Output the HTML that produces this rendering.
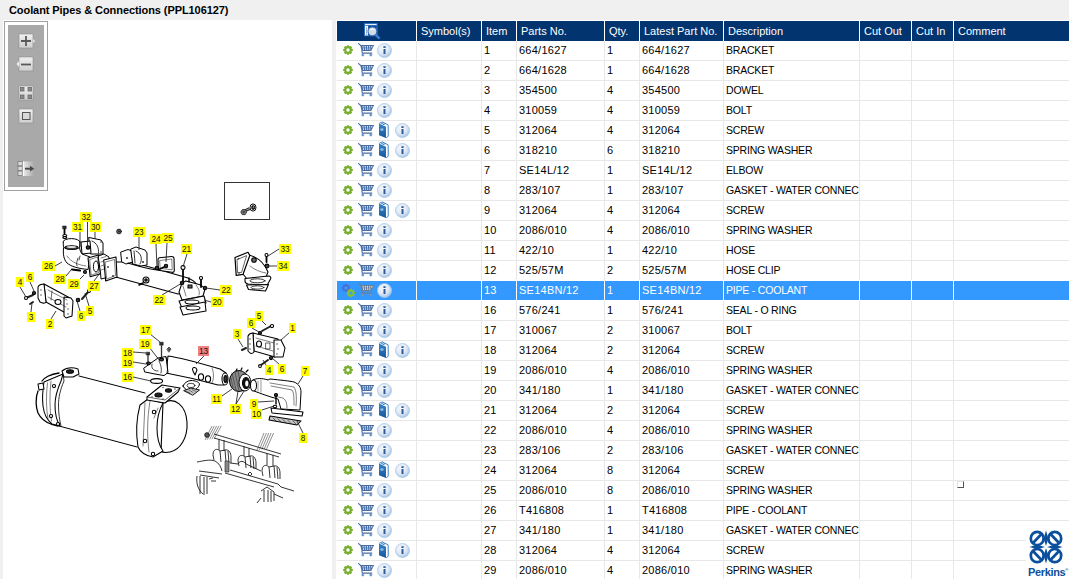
<!DOCTYPE html><html><head><meta charset="utf-8"><title>Coolant Pipes &amp; Connections</title><style>
*{margin:0;padding:0;box-sizing:border-box}
html,body{width:1069px;height:579px;overflow:hidden;background:#f0f0f0;font-family:"Liberation Sans",Arial,sans-serif;}
.a{position:absolute}
#title{left:9px;top:3px;font-weight:bold;font-size:11px;line-height:15px;color:#000;white-space:nowrap;letter-spacing:-0.08px}
#lp{left:3px;top:20px;width:329px;height:559px;background:#fff}
#rp{left:336px;top:20px;width:733px;height:559px;background:#fff}
#tbo{left:4px;top:21px;width:44px;height:170px;border:1px solid #a0a0a0;background:#fff}
#tbi{left:8px;top:25px;width:36px;height:162px;background:#a9a9a9}
.hd{top:21px;height:20px;background:#02346f;color:#fff;font-size:11px;line-height:20px;white-space:nowrap;overflow:hidden;padding-left:4px}
.c{height:19px;font-size:11px;line-height:19px;color:#000;white-space:nowrap;overflow:hidden;padding-left:2px;letter-spacing:0.25px}
.d{font-size:10.5px;letter-spacing:-0.2px}
.hl{left:337px;width:732px;height:1px;background:#e8e8e8}
.vl{width:1px;background:#e8e8e8;top:41px;height:538px}
.sel{background:#3399ff;color:#fff}
</style></head><body>
<div class="a" id="title">Coolant Pipes &amp; Connections (PPL106127)</div>
<div class="a" id="lp"></div>
<div class="a" id="rp"></div>
<div class="a" id="tbo"></div><div class="a" id="tbi"></div>
<svg class="a" style="left:18px;top:33px" width="18" height="16" viewBox="0 0 18 16"><defs><linearGradient id="bg33" x1="0" y1="0" x2="0" y2="1"><stop offset="0" stop-color="#f0f0f0"/><stop offset="1" stop-color="#cfcfcf"/></linearGradient></defs><rect x="1" y="1" width="14" height="14" fill="url(#bg33)" stroke="#8c8c8c" stroke-width="0.6"/><path d="M3 8 H13 M8 3 V13" stroke="#5a5a5a" stroke-width="1.8"/><path d="M15.2 6 L17 8 L15.2 10" fill="#f0f0f0"/></svg><svg class="a" style="left:18px;top:56px" width="18" height="16" viewBox="0 0 18 16"><defs><linearGradient id="bg56" x1="0" y1="0" x2="0" y2="1"><stop offset="0" stop-color="#f0f0f0"/><stop offset="1" stop-color="#cfcfcf"/></linearGradient></defs><rect x="1" y="1" width="14" height="14" fill="url(#bg56)" stroke="#8c8c8c" stroke-width="0.6"/><path d="M3 8.5 H13" stroke="#5a5a5a" stroke-width="1.8"/></svg><svg class="a" style="left:16px;top:61px" width="3" height="6" viewBox="0 0 3 6"><path d="M3 0 L0.5 3 L3 6 Z" fill="#eee"/></svg><svg class="a" style="left:18px;top:85px" width="18" height="16" viewBox="0 0 18 16"><defs><linearGradient id="bg85" x1="0" y1="0" x2="0" y2="1"><stop offset="0" stop-color="#f0f0f0"/><stop offset="1" stop-color="#cfcfcf"/></linearGradient></defs><rect x="1" y="1" width="14" height="14" fill="url(#bg85)" stroke="#8c8c8c" stroke-width="0.6"/><g fill="#8a8a8a" stroke="#6a6a6a" stroke-width="0.8"><rect x="2.4" y="2.4" width="3.6" height="3.6"/><rect x="10" y="2.4" width="3.6" height="3.6"/><rect x="2.4" y="10" width="3.6" height="3.6"/><rect x="10" y="10" width="3.6" height="3.6"/></g></svg><svg class="a" style="left:18px;top:108px" width="18" height="16" viewBox="0 0 18 16"><defs><linearGradient id="bg108" x1="0" y1="0" x2="0" y2="1"><stop offset="0" stop-color="#f0f0f0"/><stop offset="1" stop-color="#cfcfcf"/></linearGradient></defs><rect x="1" y="1" width="14" height="14" fill="url(#bg108)" stroke="#8c8c8c" stroke-width="0.6"/><rect x="4.5" y="4.5" width="7.5" height="7" fill="#d8d8d8" stroke="#555" stroke-width="1"/></svg><svg class="a" style="left:17px;top:160px" width="20" height="18" viewBox="0 0 20 18"><defs><linearGradient id="exg" x1="0" y1="0" x2="1" y2="0"><stop offset="0" stop-color="#ececec"/><stop offset="1" stop-color="#ececec" stop-opacity="0"/></linearGradient></defs><g fill="#dcdcdc" stroke="#7c7c7c" stroke-width="0.8"><rect x="1" y="1.5" width="4.3" height="4.3"/><rect x="1" y="6.3" width="4.3" height="4.3"/><rect x="1" y="11.1" width="4.3" height="4.3"/></g><rect x="6" y="1.5" width="11" height="14.5" fill="url(#exg)"/><path d="M6.3 1.5 V16" stroke="#fff" stroke-width="1"/><path d="M8 8.7 H14" stroke="#474747" stroke-width="1.9"/><path d="M13 5.8 L17.2 8.7 L13 11.6 Z" fill="#474747"/></svg>
<svg class="a" style="left:0;top:0" width="332" height="579" viewBox="0 0 332 579">
<rect x="224.5" y="182.5" width="45" height="37" fill="none" stroke="#333" stroke-width="1"/>
<g stroke="#111" stroke-width="0.8" fill="#fff"><path d="M245.5,210.5 L249.5,208.6" stroke-width="3" stroke="#222"/><path d="M246,210.2 L249.2,208.7" stroke-width="1.2" stroke="#999"/><path d="M240.8,212 L242.4,209.6 L245.4,209.6 L246.6,212 L245.2,214.6 L242.2,214.6 Z" fill="#888"/><circle cx="243.7" cy="212.1" r="1.3" fill="#444" stroke="none"/><ellipse cx="253" cy="207.5" rx="3" ry="3.6" fill="#eee" stroke-width="1"/><ellipse cx="253.2" cy="207.5" rx="1.6" ry="2" fill="#222"/><circle cx="253.4" cy="207" r="0.6" fill="#fff" stroke="none"/></g>
<g stroke="#111" stroke-width="0.85" fill="none" stroke-linejoin="round">
<path d="M205.0,440.0 L212.0,426" stroke="#444" stroke-width="0.6"/>
<path d="M257.0,450.0 L264.0,433" stroke="#444" stroke-width="0.6"/>
<path d="M207.3,439.7 L214.3,426" stroke="#444" stroke-width="0.6"/>
<path d="M259.4,449.7 L266.4,433" stroke="#444" stroke-width="0.6"/>
<path d="M209.6,439.4 L216.6,426" stroke="#444" stroke-width="0.6"/>
<path d="M261.8,449.4 L268.8,433" stroke="#444" stroke-width="0.6"/>
<path d="M211.9,439.1 L218.9,426" stroke="#444" stroke-width="0.6"/>
<path d="M264.2,449.1 L271.2,433" stroke="#444" stroke-width="0.6"/>
<path d="M214.2,438.8 L221.2,426" stroke="#444" stroke-width="0.6"/>
<path d="M266.6,448.8 L273.6,433" stroke="#444" stroke-width="0.6"/>
<circle cx="207" cy="435" r="2.3" fill="#555"/>
<path d="M214,434 L281,454 M214,438 L279,457" />
<path d="M219,439 L219,450 M224,440 L224,451 M244,446 L244,456 M249,448 L249,457 M267,453 L267,465 M273,455 L273,466" />
<path d="M213,455 C213,449 217,448 220,451 L225,450 C229,449 231,453 231,457 L231,463 M213,455 L214,460 M220,451 L221,462 M225,450 L226,462 M228,451 L229,463" />
<path d="M238,461 C238,455 242,454 245,457 L250,456 C254,455 256,459 256,463 L256,469 M238,461 L239,466 M245,457 L246,468 M250,456 L251,468 M253,457 L254,469" />
<path d="M262,471 C262,465 266,464 269,467 L274,466 C278,465 280,469 280,473 L280,479 M262,471 L263,476 M269,467 L270,478 M274,466 L275,478 M277,467 L278,479" />
<path d="M197,462 C203,461 210,459 215,461 C219,463 221,467 222,471" />
<path d="M230,470 L278,484 M225,473 L274,487 M278,484 L281,487 L294,491" />
<path d="M230,463 L238,464 C240,460 244,461 246,464 L261,471" />
<rect x="225" y="461" width="4" height="11" fill="#888" stroke="#222" stroke-width="0.6"/>
<path d="M248,474 l2,-2 l2,2 l-2,2 z" fill="#fff"/>
<path d="M199,471 L222,474 M200,475 L219,478 M197,476 C196,483 198,490 203,494 M200,476 L200,494 M204,477 L204,495 M207,477 L207,494 M209,479 L213,478 M211,481 L216,481" />
<path d="M261,491 L267,487 L274,492 L274,501 M264,490 L264,502 M268,490 L268,502 M271,491 L271,502 M274,494 L283,498 M257,503 L261,498" />
</g>
<g fill="#fff" stroke="#000" stroke-width="1.05" stroke-linejoin="round" stroke-linecap="round">
<path d="M79,376 L145,393 L137,447 L59,426 Z" stroke="none"/>
<path d="M79,376 L145,393 M59,426 L137,447" fill="none" stroke-width="1"/>
<path d="M59,373 C50,374 44,378 42,381 L38,383 L37,389 L38,391 C35,398 36,408 38,413 C41,419 45,422 51,424 L60,426 L61,373 Z" stroke="none"/>
<path d="M59,373 C50,374 44,378 42,381 M38,391 C35,398 36,408 38,413 C41,419 45,422 51,424 L58,426" fill="none" stroke-width="1.3"/>
<path d="M44,382 L63,374 L61,381 C57,390 55,398 55,405 C55,413 56,420 60,426 L52,424 C47,420 44,414 43,406 C42,397 43,388 44,382 Z" />
<path d="M63,374 L64,381 C60,390 58.5,398 58.5,405 C58.5,413 59.5,420 61,426" fill="none" stroke-width="0.8"/>
<path d="M47.5,383 C46,395 46,408 48,419 M51,381 C49.5,395 49.5,409 51.5,421" fill="none" stroke-width="0.5"/>
<path d="M62,371 C66,368 72,367 78,369 L79,374 L73,377 L64,377 Z" />
<ellipse cx="70" cy="371.5" rx="3.5" ry="1.8" fill="#222"/>
<circle cx="54" cy="386" r="1.6"/><circle cx="51" cy="416" r="1.6"/><circle cx="58" cy="424" r="1.6"/>
<path d="M38,384 L43,383 L44,389 L39,390 Z" fill="#fff"/>
<path d="M163,403 C175,396 186,406 187,422 C188,438 180,450 170,452 C165,453 162,452 161,451 Z" stroke-width="1.1"/>
<path d="M140,405 L148,399 L163,403 C158,412 157,420 157,428 C157,437 158,444 163,451 L153,457 C146,456 140,452 138,447 C136,435 136,420 140,405 Z" />
<path d="M145,403 L143,446 M150,401 C147,420 147,436 149,452 M158,408 L154,418" fill="none" stroke-width="0.5"/>
<circle cx="154" cy="412" r="1.7"/><circle cx="145" cy="441" r="1.7"/><circle cx="153" cy="454" r="1.7"/>
<path d="M147,397 L162,385 L180,388 L178,392 L165,403 L147,400 Z" />
<path d="M147,397 L165,400 L180,388" fill="none" stroke-width="0.6"/>
<ellipse cx="158.5" cy="395" rx="3.6" ry="2" fill="#222"/><ellipse cx="168.5" cy="390.5" rx="3" ry="1.7" fill="#222"/>
<g fill="#333" stroke="none"><circle cx="152" cy="397" r="0.7"/><circle cx="163" cy="387.5" r="0.7"/><circle cx="175" cy="389" r="0.7"/><circle cx="163" cy="399" r="0.7"/></g>
<path d="M168,356 C176,357 196,362 220,369 L226,373 L224,385 L218,385 C200,380 182,376 166,373 Z" />
<ellipse cx="225" cy="379" rx="3" ry="6"/><ellipse cx="225.5" cy="379" rx="1.6" ry="3.6" fill="#333"/>
<path d="M212,368 C214,372 214,380 212,383" fill="none" stroke-width="0.5"/>
<path d="M144,368 L151,363 L158,358 L166,356.5 L168,372.5 L164,375.6 L155,374 L145,372 Z" stroke-width="1"/>
<path d="M152,364 C151,368 153,371 158,371 M159,361 C161,365 162,369 161,373" fill="none" stroke-width="0.7"/>
<path d="M166,357 C167.5,362 168,368 167,373" fill="none" stroke-width="0.6"/>
<path d="M161.5,346 L161.5,357 M148,355.5 L148,362" stroke="#333" stroke-width="1.3"/>
<rect x="159.8" y="342.2" width="3.4" height="3" fill="#333" stroke-width="0.5"/><rect x="146.4" y="352.2" width="3.2" height="2.8" fill="#333" stroke-width="0.5"/><ellipse cx="161.5" cy="359.5" rx="2" ry="1.4" fill="#444"/><ellipse cx="148.5" cy="363.3" rx="2" ry="1.3" fill="#444"/>
<ellipse cx="156.6" cy="381" rx="6" ry="2.4" fill="none" stroke-width="1.1"/>
<path d="M167,349 l2,-2 l2,2 l-2,3 z" fill="#555" stroke-width="0.5"/>
<path d="M193,371 C191,367 196,366 197,370 L195,375 Z" />
<ellipse cx="201" cy="377" rx="2.6" ry="3.2"/><ellipse cx="208" cy="379" rx="2.6" ry="3.2"/>
<path d="M183,386 C184,383 188,380.5 191,380.5 C195,380.5 199,382 199.5,384 C199,387 196,390 192,391 C188,391 184,389 183,386 Z" stroke-width="1"/>
<ellipse cx="191" cy="385.5" rx="4" ry="2.2" fill="none" stroke-width="0.7"/>
<path d="M184,390.5 L191,388 L199.5,390 L193,395 Z" fill="#ccc" stroke-width="0.9"/>
<path d="M186,391 L190,393 M189,390 L193,392.5 M192,389.5 L196,391.5" fill="none" stroke-width="0.5"/>
<ellipse cx="239" cy="381" rx="9.5" ry="10.5" fill="#8a8a8a" stroke-width="1"/>
<path d="M232,373 L236,390 M235,372 L239,391 M238,371 L242,391 M231,378 L233,388" fill="none" stroke="#333" stroke-width="0.6"/>
<ellipse cx="245" cy="382.5" rx="6" ry="8.5" stroke-width="1"/><ellipse cx="246" cy="383" rx="3.5" ry="5.5" fill="#111"/><ellipse cx="246.8" cy="383.5" rx="1.6" ry="3" fill="#fff" stroke="none"/>
<path d="M236,371 l1,-2 M241,370 l1,-2 M246,372 l2,-2" stroke-width="1.2"/>
<path d="M253,380 C256,378 262,378 268,380 L270,379 C280,380 290,381 294,382 C299,384 301,388 301,392 L300,410 L281,409 L278,399 C270,397 262,394 254,391 Z" stroke-width="1"/>
<ellipse cx="253.5" cy="385.5" rx="3" ry="5.5"/>
<path d="M270,383 L294,387 C296,390 297,396 296,406 M271,386 L292,390 C294,393 294,398 294,405 M278,397 L283,398 C286,400 287,403 287,408" fill="none" stroke-width="0.5"/>
<path d="M258,381 L258,391 M261,380 L261,392" fill="none" stroke-width="0.4"/>
<path d="M271,408 L303,412 L302,416 L272,413 Z" />
<path d="M270,416 L301,421 L297,425 L269,420 Z" fill="#c4c4c4"/>
<path d="M273,418 L276,421 M278,418.8 L281,422 M283,419.6 L286,422.8 M288,420.4 L291,423.6 M293,421 L296,424" fill="none" stroke-width="0.5"/>
<path d="M276,396 l0,8" stroke-width="1.4"/>
<circle cx="276" cy="395" r="1.6" fill="#333"/><ellipse cx="275" cy="406.5" rx="1.8" ry="1.2"/>
<path d="M253,333 L278,339 L275,357 L254,351 Z" />
<path d="M256,338 L274,343 M256,346 L273,351" fill="none" stroke-width="0.5"/>
<ellipse cx="259" cy="344" rx="2.5" ry="3"/><rect x="266" y="343" width="4" height="6" fill="none" stroke-width="0.6"/>
<path d="M248,336 C249,334 251,333 253,333 L254,351 C254,353 252,354 250,353 L248,351 Z" />
<path d="M274,340 L281,340 L285,348 L283,357 L274,357 Z" />
<g fill="#333" stroke="none"><circle cx="250" cy="339" r="0.7"/><circle cx="250" cy="344" r="0.7"/><circle cx="250" cy="349" r="0.7"/><circle cx="277" cy="344" r="0.7"/><circle cx="278" cy="349" r="0.7"/><circle cx="277" cy="354" r="0.7"/></g>
<path d="M262,331 L271,326 M261,365 L268,360 M242,350 L246,348" stroke-width="2" stroke="#222"/>
<circle cx="272" cy="326" r="1.6"/><circle cx="260" cy="333" r="1.5" fill="#333"/><circle cx="271" cy="358" r="1.6" fill="#333"/><circle cx="260" cy="366" r="1.4"/>
<path d="M44,284 L70,298 L71,316 L46,302 Z" />
<path d="M38,287 C39,285 42,284 44,284 L46,302 C45,304 42,303 40,302 L38,298 Z" />
<path d="M64,297 L71,298 L73,301 L72,316 L66,318 L64,316 Z" />
<path d="M48,290 L67,300 M48,297 L66,307" fill="none" stroke-width="0.5"/>
<ellipse cx="58" cy="302" rx="3" ry="2.5"/><path d="M52,291 L51,300" stroke-width="0.6"/>
<g fill="#333" stroke="none"><circle cx="41" cy="290" r="0.7"/><circle cx="41" cy="295" r="0.7"/><circle cx="67" cy="304" r="0.7"/><circle cx="68" cy="309" r="0.7"/><circle cx="68" cy="314" r="0.7"/></g>
<path d="M26,298 L33,295 M89,291 L82,299 M30,304 l3,-2" stroke-width="2" stroke="#222"/>
<circle cx="34" cy="293" r="1.6" fill="#333"/><circle cx="26" cy="298" r="1.5"/><circle cx="78" cy="300" r="1.8" fill="#333"/><circle cx="89" cy="291" r="1.4"/>
<path d="M89,237.5 L101,240 L103,243 L103,254 L91,254 Z" stroke-width="1"/>
<path d="M92,241 C97,243 99,248 98.5,253" fill="none" stroke-width="0.8"/>
<circle cx="101" cy="242" r="0.8" fill="#333" stroke="none"/><circle cx="101" cy="252" r="0.8" fill="#333" stroke="none"/>
<path d="M81,242 L90,241 L91,253 L82,254 Z" />
<path d="M63.5,248 C63,254 63.5,259 67,263 C71,266.5 78,268.5 88,269.5 L90,257 L82,254 C80,251 79.5,249 79.5,246 Z" stroke-width="1"/>
<path d="M67,256 C71,262 78,265 86,266" fill="none" stroke-width="0.5"/>
<path d="M78,258 C77,261 76,264 77,266 M80,256 l-1,4" fill="none" stroke-width="0.7"/>
<ellipse cx="71.5" cy="242" rx="8.4" ry="3.4" stroke-width="1"/>
<path d="M63.2,242.5 L63.5,247 C66,249.5 76,250.5 79.6,247.5 L79.8,242.5" stroke-width="0.9"/>
<ellipse cx="71.5" cy="247.5" rx="6.5" ry="1.8" fill="#555"/><ellipse cx="71.5" cy="247" rx="4.5" ry="1" fill="#ddd" stroke="none"/>
<path d="M64.5,229 L64.5,234" stroke-width="1.8"/>
<rect x="62.8" y="226" width="3.4" height="2.8" fill="#333" stroke-width="0.5"/><ellipse cx="64.8" cy="235.5" rx="2" ry="1.1" fill="none"/><ellipse cx="64.8" cy="237.5" rx="2" ry="1" fill="none"/>
<circle cx="88" cy="247.5" r="1.8" fill="#333"/>
<circle cx="119" cy="231.5" r="2.4" fill="#666" stroke-width="0.7"/><circle cx="119" cy="231.5" r="0.9" fill="#222" stroke="none"/>
<path d="M72,269.5 L80,270.5" stroke-width="2.2"/>
<circle cx="85" cy="272" r="1.5" fill="#444"/>
<path d="M88,258 L98.5,255 L100.6,273.7 L90.2,276.8 Z" stroke-width="1.1"/>
<path d="M90,259.5 L97.5,257 L99,272.5 L91.5,275 Z" fill="none" stroke-width="0.5"/>
<ellipse cx="96" cy="266.5" rx="2.6" ry="5.5" fill="none" stroke-width="1"/>
<path d="M98.5,256 L104,254 L109,257 L109,277 L101,279 L100.6,273.7 Z" stroke-width="1"/>
<path d="M101,258 L106,256.5 M101,262 L107,260 M101,266 L107,264 M101,270 L107,268" fill="none" stroke-width="0.5"/>
<path d="M112,262 L128,262 C140,264 150,267 160,270 L188,278 C195,281 198,285 199,289 L178,294 L112,276 Z" />
<path d="M103.7,260 L116,257 L117,277 L105.7,281 Z" stroke-width="1.1"/>
<path d="M105.5,262 L114.5,259.5 L115.5,275.5 L107,279 Z" fill="none" stroke-width="0.5"/>
<circle cx="108" cy="267" r="0.9" fill="#333" stroke="none"/><circle cx="113" cy="276" r="0.9" fill="#333" stroke="none"/>
<path d="M121,252 L128,249.5 L132,251 L133,262 L126,264 L122,262 Z" stroke-width="1"/>
<path d="M131,249 L136,247 L145,250 L147,253 L147,265 L141,266 L133,264 Z" stroke-width="1"/>
<path d="M136,251 C141,253 143,259 140,264 M134,251 L135,263" fill="none" stroke-width="0.8"/>
<circle cx="127" cy="258" r="1" fill="#333" stroke="none"/><circle cx="143" cy="262" r="1" fill="#333" stroke="none"/>
<path d="M128,263 C138,266 150,270 160,270" fill="none"/>
<path d="M158,259.5 C158,258.5 158.5,258 159.5,257.8 L171.5,256.5 C173,256.4 174,257.2 174,258.6 L174.3,270.5 C174.3,271.8 173.4,272.5 172,272.3 L160,270.5 C158.8,270.3 158.2,269.6 158.2,268.5 Z" stroke-width="1.1"/>
<path d="M160,260.5 L171.8,259 L172.2,269.8 L160.6,268.4 Z" fill="none" stroke-width="0.5"/>
<circle cx="166" cy="266" r="1.7" fill="#333"/><circle cx="157" cy="268" r="1.8" fill="#333"/>
<path d="M158,270 L164,267" stroke-width="1.6"/>
<circle cx="146" cy="280" r="3"/><circle cx="146" cy="280" r="1.3" fill="#333"/><path d="M139,285 l4,-2" stroke-width="1.6"/>
<path d="M182,283 L186,281 L201,285 L205,289 L203,296 L182,300 L179,292 Z" />
<path d="M183,286 L186,296 M196,285 C199,289 200,292 199,295" fill="none" stroke-width="0.5"/>
<path d="M179,301 L204,296 L206,303 L182,308 Z" />
<ellipse cx="192" cy="302" rx="7" ry="2" fill="none"/>
<path d="M180,307 L205,302 L206,311 L183,315 Z" />
<ellipse cx="193" cy="308" rx="7" ry="2" fill="none"/>
<path d="M183,268 L183,281 M201,280 L201,287" stroke-width="1.8"/>
<circle cx="183" cy="267.5" r="2"/><circle cx="201" cy="278" r="1.6"/><circle cx="205" cy="288" r="1.7" fill="#333"/><circle cx="182" cy="283" r="1.7" fill="#333"/>
<path d="M189,282 l0,-4" stroke-width="1.4"/>
<rect x="188" y="285" width="4" height="3" fill="#666"/>
<path d="M249,255 C257,257 264,262 268,272 L266,277 L247,279 L243,274 Z" />
<path d="M235,257.5 L248,252.3 L249.8,255.5 L243,274.4 L236.2,275.4 Z" stroke-width="1.2"/>
<path d="M237.3,259.5 L246.6,255.6 L241.6,272.4 L238,272.8 Z" fill="none" stroke-width="0.6"/>
<circle cx="238.5" cy="258.8" r="0.8" fill="#333" stroke="none"/><circle cx="239" cy="273" r="0.8" fill="#333" stroke="none"/>
<path d="M245,278.5 L268.5,276 C270.5,276 271.2,277.5 270.5,279 L267,285.5 L248,284 C246,283.6 245,282.6 245,281 Z" stroke-width="1.1"/>
<ellipse cx="257.5" cy="280.8" rx="7.5" ry="2" fill="none" stroke-width="0.8"/>
<path d="M246.5,285 L268.5,284.5 L265.5,291 L248.5,289.5 Z" stroke-width="1.1"/>
<ellipse cx="257.5" cy="287.5" rx="6.5" ry="1.6" fill="none" stroke-width="0.7"/>
<path d="M250,266 C255,270 260,272 266,273" fill="none" stroke-width="0.5"/>
<circle cx="254" cy="260" r="2.3" fill="#666"/><path d="M266.5,256 L266.5,262" stroke-width="1.8"/><circle cx="266.5" cy="255" r="1.5"/><circle cx="267" cy="266" r="1.9" fill="#444"/>
</g>
<g stroke="#1a1a1a" stroke-width="0.85">
<line x1="87.5" y1="222" x2="87.5" y2="247"/>
<line x1="80" y1="232" x2="80" y2="247"/>
<line x1="95" y1="232" x2="95" y2="239"/>
<line x1="55" y1="266" x2="62" y2="262"/>
<line x1="30" y1="282" x2="34" y2="291"/>
<line x1="20" y1="287" x2="26" y2="297"/>
<line x1="66" y1="276" x2="71" y2="270"/>
<line x1="78" y1="281" x2="84" y2="275"/>
<line x1="94" y1="281" x2="100" y2="273"/>
<line x1="31" y1="312" x2="32" y2="303"/>
<line x1="51" y1="319" x2="56" y2="311"/>
<line x1="80" y1="311" x2="77" y2="301"/>
<line x1="89" y1="306" x2="85" y2="293"/>
<line x1="139" y1="237" x2="139" y2="250"/>
<line x1="156" y1="244" x2="157" y2="268"/>
<line x1="167" y1="243" x2="166" y2="262"/>
<line x1="187" y1="254" x2="183" y2="267"/>
<line x1="220" y1="290" x2="206" y2="288"/>
<line x1="162" y1="295" x2="182" y2="283"/>
<line x1="211" y1="302" x2="204" y2="300"/>
<line x1="279" y1="249" x2="268" y2="256"/>
<line x1="277" y1="266" x2="268" y2="266"/>
<line x1="261" y1="320" x2="266" y2="325"/>
<line x1="252" y1="328" x2="259" y2="332"/>
<line x1="290" y1="332" x2="281" y2="340"/>
<line x1="238" y1="339" x2="243" y2="347"/>
<line x1="204" y1="356" x2="196" y2="364"/>
<line x1="266" y1="365" x2="263" y2="360"/>
<line x1="279" y1="364" x2="272" y2="358"/>
<line x1="303" y1="376" x2="298" y2="384"/>
<line x1="150" y1="334" x2="160" y2="342"/>
<line x1="149" y1="347" x2="160" y2="361"/>
<line x1="133" y1="352" x2="146" y2="353"/>
<line x1="133" y1="362" x2="146" y2="364"/>
<line x1="133" y1="377" x2="151" y2="381"/>
<line x1="222" y1="396" x2="232" y2="389"/>
<line x1="236" y1="404" x2="238" y2="391"/>
<line x1="236" y1="404" x2="244" y2="391"/>
<line x1="258" y1="402" x2="274" y2="401"/>
<line x1="262" y1="410" x2="274" y2="406"/>
<line x1="303" y1="433" x2="297" y2="421"/>
</g>
<g font-family="Liberation Sans, Arial, sans-serif" font-size="8.3" text-anchor="middle" fill="#111">
<rect x="80" y="212" width="12" height="10" fill="#ffff00"/><text x="86.0" y="220.2">32</text>
<rect x="72" y="222" width="11" height="10" fill="#ffff00"/><text x="77.5" y="230.2">31</text>
<rect x="90" y="222" width="11" height="10" fill="#ffff00"/><text x="95.5" y="230.2">30</text>
<rect x="42" y="261" width="13" height="10" fill="#ffff00"/><text x="48.5" y="269.2">26</text>
<rect x="26" y="272" width="8" height="10" fill="#ffff00"/><text x="30.0" y="280.2">6</text>
<rect x="16" y="277" width="8" height="10" fill="#ffff00"/><text x="20.0" y="285.2">4</text>
<rect x="54" y="274" width="12" height="10" fill="#ffff00"/><text x="60.0" y="282.2">28</text>
<rect x="68" y="279" width="12" height="10" fill="#ffff00"/><text x="74.0" y="287.2">29</text>
<rect x="88" y="281" width="12" height="10" fill="#ffff00"/><text x="94.0" y="289.2">27</text>
<rect x="27" y="312" width="8" height="10" fill="#ffff00"/><text x="31.0" y="320.2">3</text>
<rect x="46" y="319" width="8" height="10" fill="#ffff00"/><text x="50.0" y="327.2">2</text>
<rect x="77" y="311" width="8" height="10" fill="#ffff00"/><text x="81.0" y="319.2">6</text>
<rect x="86" y="306" width="8" height="10" fill="#ffff00"/><text x="90.0" y="314.2">5</text>
<rect x="133" y="227" width="12" height="10" fill="#ffff00"/><text x="139.0" y="235.2">23</text>
<rect x="150" y="234" width="12" height="10" fill="#ffff00"/><text x="156.0" y="242.2">24</text>
<rect x="162" y="233" width="12" height="10" fill="#ffff00"/><text x="168.0" y="241.2">25</text>
<rect x="181" y="244" width="11" height="10" fill="#ffff00"/><text x="186.5" y="252.2">21</text>
<rect x="220" y="285" width="12" height="10" fill="#ffff00"/><text x="226.0" y="293.2">22</text>
<rect x="153" y="295" width="12" height="10" fill="#ffff00"/><text x="159.0" y="303.2">22</text>
<rect x="211" y="297" width="12" height="10" fill="#ffff00"/><text x="217.0" y="305.2">20</text>
<rect x="279" y="244" width="12" height="10" fill="#ffff00"/><text x="285.0" y="252.2">33</text>
<rect x="277" y="261" width="12" height="10" fill="#ffff00"/><text x="283.0" y="269.2">34</text>
<rect x="255" y="311" width="8" height="10" fill="#ffff00"/><text x="259.0" y="319.2">5</text>
<rect x="247" y="318" width="8" height="10" fill="#ffff00"/><text x="251.0" y="326.2">6</text>
<rect x="289" y="323" width="7" height="10" fill="#ffff00"/><text x="292.5" y="331.2">1</text>
<rect x="233" y="329" width="8" height="10" fill="#ffff00"/><text x="237.0" y="337.2">3</text>
<rect x="198" y="346" width="11" height="10" fill="#f08080"/><text x="203.5" y="354.2">13</text>
<rect x="265" y="365" width="8" height="10" fill="#ffff00"/><text x="269.0" y="373.2">4</text>
<rect x="278" y="364" width="8" height="10" fill="#ffff00"/><text x="282.0" y="372.2">6</text>
<rect x="301" y="366" width="8" height="10" fill="#ffff00"/><text x="305.0" y="374.2">7</text>
<rect x="140" y="325" width="11" height="10" fill="#ffff00"/><text x="145.5" y="333.2">17</text>
<rect x="139" y="339" width="12" height="10" fill="#ffff00"/><text x="145.0" y="347.2">19</text>
<rect x="122" y="348" width="11" height="10" fill="#ffff00"/><text x="127.5" y="356.2">18</text>
<rect x="122" y="358" width="11" height="10" fill="#ffff00"/><text x="127.5" y="366.2">19</text>
<rect x="122" y="372" width="11" height="10" fill="#ffff00"/><text x="127.5" y="380.2">16</text>
<rect x="211" y="394" width="11" height="10" fill="#ffff00"/><text x="216.5" y="402.2">11</text>
<rect x="230" y="404" width="11" height="10" fill="#ffff00"/><text x="235.5" y="412.2">12</text>
<rect x="250" y="399" width="8" height="10" fill="#ffff00"/><text x="254.0" y="407.2">9</text>
<rect x="251" y="409" width="11" height="10" fill="#ffff00"/><text x="256.5" y="417.2">10</text>
<rect x="299" y="433" width="8" height="10" fill="#ffff00"/><text x="303.0" y="441.2">8</text>
</g>
</svg>
<div class="a hl" style="top:60px"></div>
<div class="a hl" style="top:80px"></div>
<div class="a hl" style="top:100px"></div>
<div class="a hl" style="top:120px"></div>
<div class="a hl" style="top:140px"></div>
<div class="a hl" style="top:160px"></div>
<div class="a hl" style="top:180px"></div>
<div class="a hl" style="top:200px"></div>
<div class="a hl" style="top:220px"></div>
<div class="a hl" style="top:240px"></div>
<div class="a hl" style="top:260px"></div>
<div class="a hl" style="top:280px"></div>
<div class="a hl" style="top:300px"></div>
<div class="a hl" style="top:320px"></div>
<div class="a hl" style="top:340px"></div>
<div class="a hl" style="top:360px"></div>
<div class="a hl" style="top:380px"></div>
<div class="a hl" style="top:400px"></div>
<div class="a hl" style="top:420px"></div>
<div class="a hl" style="top:440px"></div>
<div class="a hl" style="top:460px"></div>
<div class="a hl" style="top:480px"></div>
<div class="a hl" style="top:500px"></div>
<div class="a hl" style="top:520px"></div>
<div class="a hl" style="top:540px"></div>
<div class="a hl" style="top:560px"></div>
<div class="a hl" style="top:580px"></div>
<div class="a vl" style="left:416px"></div>
<div class="a vl" style="left:481px"></div>
<div class="a vl" style="left:516px"></div>
<div class="a vl" style="left:604px"></div>
<div class="a vl" style="left:639px"></div>
<div class="a vl" style="left:723px"></div>
<div class="a vl" style="left:859px"></div>
<div class="a vl" style="left:911px"></div>
<div class="a vl" style="left:953px"></div>
<div class="a hd" style="left:337px;width:79px"></div>
<div class="a hd" style="left:417px;width:64px">Symbol(s)</div>
<div class="a hd" style="left:482px;width:34px">Item</div>
<div class="a hd" style="left:517px;width:87px">Parts No.</div>
<div class="a hd" style="left:605px;width:34px">Qty.</div>
<div class="a hd" style="left:640px;width:83px">Latest Part No.</div>
<div class="a hd" style="left:724px;width:135px">Description</div>
<div class="a hd" style="left:860px;width:51px">Cut Out</div>
<div class="a hd" style="left:912px;width:41px">Cut In</div>
<div class="a hd" style="left:954px;width:115px">Comment</div>
<svg class="a" style="left:364px;top:23px" width="17" height="17" viewBox="0 0 17 17"><rect x="0" y="0" width="13.6" height="13.2" fill="#2f72c4"/><rect x="1" y="1" width="11.6" height="0.9" fill="#fff"/><rect x="1" y="2.8" width="3.2" height="9.6" fill="#fff"/><g fill="#2f5f9c"><rect x="2" y="4.6" width="1.2" height="0.9"/><rect x="2" y="6.6" width="1.2" height="0.9"/><rect x="2" y="8.6" width="1.2" height="0.9"/><rect x="2" y="10.6" width="1.2" height="0.9"/></g><rect x="4.2" y="2.8" width="8.4" height="9.6" fill="#164d92"/><circle cx="8.4" cy="8.4" r="4.4" fill="#d6dbe1" stroke="#2b6cc0" stroke-width="1"/><path d="M6 6.6 Q8.4 5.2 10.6 6.8" stroke="#fff" stroke-width="1" fill="none"/><path d="M11.4 11.6 L15.6 15.6" stroke="#3d80d2" stroke-width="2.2"/></svg>
<div class="a c" style="left:482px;top:41px;width:34px">1</div>
<div class="a c" style="left:517px;top:41px;width:87px">664/1627</div>
<div class="a c" style="left:605px;top:41px;width:34px">1</div>
<div class="a c" style="left:640px;top:41px;width:83px">664/1627</div>
<div class="a c d" style="left:724px;top:41px;width:135px">BRACKET</div>
<svg class="a" style="left:343px;top:45px" width="10" height="10" viewBox="0 0 11 11"><g fill="#77ae2e"><circle cx="5.5" cy="5.5" r="4"/><rect x="4.1" y="0.2" width="2.8" height="10.6" rx="0.9"/><rect x="0.2" y="4.1" width="10.6" height="2.8" rx="0.9"/><rect x="4.1" y="0.2" width="2.8" height="10.6" rx="0.9" transform="rotate(45 5.5 5.5)"/><rect x="4.1" y="0.2" width="2.8" height="10.6" rx="0.9" transform="rotate(-45 5.5 5.5)"/></g><circle cx="5.5" cy="5.5" r="1.9" fill="#fff"/></svg><svg class="a" style="left:358px;top:43px" width="17" height="14" viewBox="0 0 17 14"><path d="M0.6 0.6 L2.6 2.4" stroke="#4a6ea6" stroke-width="1.2" stroke-linecap="round"/><path d="M2.2 1.9 L16.2 1.9 L13.2 7.9 L3.6 7.9 Z" fill="#4a6ea6"/><g fill="#fff" opacity="0.85"><rect x="4.6" y="3" width="1" height="1.6"/><rect x="6.8" y="3" width="1" height="1.6"/><rect x="9" y="3" width="1" height="1.6"/><rect x="11.2" y="3" width="1" height="1.6"/><rect x="13.3" y="3" width="1" height="1.6"/><rect x="5" y="5.3" width="1" height="1.5"/><rect x="7.1" y="5.3" width="1" height="1.5"/><rect x="9.2" y="5.3" width="1" height="1.5"/><rect x="11.3" y="5.3" width="1" height="1.5"/></g><path d="M3.9 7.8 L4.3 10.1 L14.2 10.1" fill="none" stroke="#4a6ea6" stroke-width="1.1"/><circle cx="4.8" cy="12" r="1.1" fill="#4f9be8" stroke="#4a6ea6" stroke-width="0.4"/><circle cx="12.8" cy="12" r="1.1" fill="#4f9be8" stroke="#4a6ea6" stroke-width="0.4"/></svg><svg class="a" style="left:377px;top:43px" width="15" height="15" viewBox="0 0 15 15"><defs><radialGradient id="ig" cx="0.4" cy="0.35" r="0.7"><stop offset="0" stop-color="#f6f9fd"/><stop offset="0.55" stop-color="#dfe9f5"/><stop offset="1" stop-color="#9fc0e3"/></radialGradient></defs><circle cx="7.5" cy="7.5" r="7" fill="url(#ig)" stroke="#a9c8e8" stroke-width="0.8"/><rect x="6.4" y="3.2" width="2.2" height="1.8" fill="#2f5b9c"/><rect x="6.5" y="6" width="2" height="5" fill="#2f5b9c"/></svg>
<div class="a c" style="left:482px;top:61px;width:34px">2</div>
<div class="a c" style="left:517px;top:61px;width:87px">664/1628</div>
<div class="a c" style="left:605px;top:61px;width:34px">1</div>
<div class="a c" style="left:640px;top:61px;width:83px">664/1628</div>
<div class="a c d" style="left:724px;top:61px;width:135px">BRACKET</div>
<svg class="a" style="left:343px;top:65px" width="10" height="10" viewBox="0 0 11 11"><g fill="#77ae2e"><circle cx="5.5" cy="5.5" r="4"/><rect x="4.1" y="0.2" width="2.8" height="10.6" rx="0.9"/><rect x="0.2" y="4.1" width="10.6" height="2.8" rx="0.9"/><rect x="4.1" y="0.2" width="2.8" height="10.6" rx="0.9" transform="rotate(45 5.5 5.5)"/><rect x="4.1" y="0.2" width="2.8" height="10.6" rx="0.9" transform="rotate(-45 5.5 5.5)"/></g><circle cx="5.5" cy="5.5" r="1.9" fill="#fff"/></svg><svg class="a" style="left:358px;top:63px" width="17" height="14" viewBox="0 0 17 14"><path d="M0.6 0.6 L2.6 2.4" stroke="#4a6ea6" stroke-width="1.2" stroke-linecap="round"/><path d="M2.2 1.9 L16.2 1.9 L13.2 7.9 L3.6 7.9 Z" fill="#4a6ea6"/><g fill="#fff" opacity="0.85"><rect x="4.6" y="3" width="1" height="1.6"/><rect x="6.8" y="3" width="1" height="1.6"/><rect x="9" y="3" width="1" height="1.6"/><rect x="11.2" y="3" width="1" height="1.6"/><rect x="13.3" y="3" width="1" height="1.6"/><rect x="5" y="5.3" width="1" height="1.5"/><rect x="7.1" y="5.3" width="1" height="1.5"/><rect x="9.2" y="5.3" width="1" height="1.5"/><rect x="11.3" y="5.3" width="1" height="1.5"/></g><path d="M3.9 7.8 L4.3 10.1 L14.2 10.1" fill="none" stroke="#4a6ea6" stroke-width="1.1"/><circle cx="4.8" cy="12" r="1.1" fill="#4f9be8" stroke="#4a6ea6" stroke-width="0.4"/><circle cx="12.8" cy="12" r="1.1" fill="#4f9be8" stroke="#4a6ea6" stroke-width="0.4"/></svg><svg class="a" style="left:377px;top:63px" width="15" height="15" viewBox="0 0 15 15"><defs><radialGradient id="ig" cx="0.4" cy="0.35" r="0.7"><stop offset="0" stop-color="#f6f9fd"/><stop offset="0.55" stop-color="#dfe9f5"/><stop offset="1" stop-color="#9fc0e3"/></radialGradient></defs><circle cx="7.5" cy="7.5" r="7" fill="url(#ig)" stroke="#a9c8e8" stroke-width="0.8"/><rect x="6.4" y="3.2" width="2.2" height="1.8" fill="#2f5b9c"/><rect x="6.5" y="6" width="2" height="5" fill="#2f5b9c"/></svg>
<div class="a c" style="left:482px;top:81px;width:34px">3</div>
<div class="a c" style="left:517px;top:81px;width:87px">354500</div>
<div class="a c" style="left:605px;top:81px;width:34px">4</div>
<div class="a c" style="left:640px;top:81px;width:83px">354500</div>
<div class="a c d" style="left:724px;top:81px;width:135px">DOWEL</div>
<svg class="a" style="left:343px;top:85px" width="10" height="10" viewBox="0 0 11 11"><g fill="#77ae2e"><circle cx="5.5" cy="5.5" r="4"/><rect x="4.1" y="0.2" width="2.8" height="10.6" rx="0.9"/><rect x="0.2" y="4.1" width="10.6" height="2.8" rx="0.9"/><rect x="4.1" y="0.2" width="2.8" height="10.6" rx="0.9" transform="rotate(45 5.5 5.5)"/><rect x="4.1" y="0.2" width="2.8" height="10.6" rx="0.9" transform="rotate(-45 5.5 5.5)"/></g><circle cx="5.5" cy="5.5" r="1.9" fill="#fff"/></svg><svg class="a" style="left:358px;top:83px" width="17" height="14" viewBox="0 0 17 14"><path d="M0.6 0.6 L2.6 2.4" stroke="#4a6ea6" stroke-width="1.2" stroke-linecap="round"/><path d="M2.2 1.9 L16.2 1.9 L13.2 7.9 L3.6 7.9 Z" fill="#4a6ea6"/><g fill="#fff" opacity="0.85"><rect x="4.6" y="3" width="1" height="1.6"/><rect x="6.8" y="3" width="1" height="1.6"/><rect x="9" y="3" width="1" height="1.6"/><rect x="11.2" y="3" width="1" height="1.6"/><rect x="13.3" y="3" width="1" height="1.6"/><rect x="5" y="5.3" width="1" height="1.5"/><rect x="7.1" y="5.3" width="1" height="1.5"/><rect x="9.2" y="5.3" width="1" height="1.5"/><rect x="11.3" y="5.3" width="1" height="1.5"/></g><path d="M3.9 7.8 L4.3 10.1 L14.2 10.1" fill="none" stroke="#4a6ea6" stroke-width="1.1"/><circle cx="4.8" cy="12" r="1.1" fill="#4f9be8" stroke="#4a6ea6" stroke-width="0.4"/><circle cx="12.8" cy="12" r="1.1" fill="#4f9be8" stroke="#4a6ea6" stroke-width="0.4"/></svg><svg class="a" style="left:377px;top:83px" width="15" height="15" viewBox="0 0 15 15"><defs><radialGradient id="ig" cx="0.4" cy="0.35" r="0.7"><stop offset="0" stop-color="#f6f9fd"/><stop offset="0.55" stop-color="#dfe9f5"/><stop offset="1" stop-color="#9fc0e3"/></radialGradient></defs><circle cx="7.5" cy="7.5" r="7" fill="url(#ig)" stroke="#a9c8e8" stroke-width="0.8"/><rect x="6.4" y="3.2" width="2.2" height="1.8" fill="#2f5b9c"/><rect x="6.5" y="6" width="2" height="5" fill="#2f5b9c"/></svg>
<div class="a c" style="left:482px;top:101px;width:34px">4</div>
<div class="a c" style="left:517px;top:101px;width:87px">310059</div>
<div class="a c" style="left:605px;top:101px;width:34px">4</div>
<div class="a c" style="left:640px;top:101px;width:83px">310059</div>
<div class="a c d" style="left:724px;top:101px;width:135px">BOLT</div>
<svg class="a" style="left:343px;top:105px" width="10" height="10" viewBox="0 0 11 11"><g fill="#77ae2e"><circle cx="5.5" cy="5.5" r="4"/><rect x="4.1" y="0.2" width="2.8" height="10.6" rx="0.9"/><rect x="0.2" y="4.1" width="10.6" height="2.8" rx="0.9"/><rect x="4.1" y="0.2" width="2.8" height="10.6" rx="0.9" transform="rotate(45 5.5 5.5)"/><rect x="4.1" y="0.2" width="2.8" height="10.6" rx="0.9" transform="rotate(-45 5.5 5.5)"/></g><circle cx="5.5" cy="5.5" r="1.9" fill="#fff"/></svg><svg class="a" style="left:358px;top:103px" width="17" height="14" viewBox="0 0 17 14"><path d="M0.6 0.6 L2.6 2.4" stroke="#4a6ea6" stroke-width="1.2" stroke-linecap="round"/><path d="M2.2 1.9 L16.2 1.9 L13.2 7.9 L3.6 7.9 Z" fill="#4a6ea6"/><g fill="#fff" opacity="0.85"><rect x="4.6" y="3" width="1" height="1.6"/><rect x="6.8" y="3" width="1" height="1.6"/><rect x="9" y="3" width="1" height="1.6"/><rect x="11.2" y="3" width="1" height="1.6"/><rect x="13.3" y="3" width="1" height="1.6"/><rect x="5" y="5.3" width="1" height="1.5"/><rect x="7.1" y="5.3" width="1" height="1.5"/><rect x="9.2" y="5.3" width="1" height="1.5"/><rect x="11.3" y="5.3" width="1" height="1.5"/></g><path d="M3.9 7.8 L4.3 10.1 L14.2 10.1" fill="none" stroke="#4a6ea6" stroke-width="1.1"/><circle cx="4.8" cy="12" r="1.1" fill="#4f9be8" stroke="#4a6ea6" stroke-width="0.4"/><circle cx="12.8" cy="12" r="1.1" fill="#4f9be8" stroke="#4a6ea6" stroke-width="0.4"/></svg><svg class="a" style="left:377px;top:103px" width="15" height="15" viewBox="0 0 15 15"><defs><radialGradient id="ig" cx="0.4" cy="0.35" r="0.7"><stop offset="0" stop-color="#f6f9fd"/><stop offset="0.55" stop-color="#dfe9f5"/><stop offset="1" stop-color="#9fc0e3"/></radialGradient></defs><circle cx="7.5" cy="7.5" r="7" fill="url(#ig)" stroke="#a9c8e8" stroke-width="0.8"/><rect x="6.4" y="3.2" width="2.2" height="1.8" fill="#2f5b9c"/><rect x="6.5" y="6" width="2" height="5" fill="#2f5b9c"/></svg>
<div class="a c" style="left:482px;top:121px;width:34px">5</div>
<div class="a c" style="left:517px;top:121px;width:87px">312064</div>
<div class="a c" style="left:605px;top:121px;width:34px">4</div>
<div class="a c" style="left:640px;top:121px;width:83px">312064</div>
<div class="a c d" style="left:724px;top:121px;width:135px">SCREW</div>
<svg class="a" style="left:343px;top:125px" width="10" height="10" viewBox="0 0 11 11"><g fill="#77ae2e"><circle cx="5.5" cy="5.5" r="4"/><rect x="4.1" y="0.2" width="2.8" height="10.6" rx="0.9"/><rect x="0.2" y="4.1" width="10.6" height="2.8" rx="0.9"/><rect x="4.1" y="0.2" width="2.8" height="10.6" rx="0.9" transform="rotate(45 5.5 5.5)"/><rect x="4.1" y="0.2" width="2.8" height="10.6" rx="0.9" transform="rotate(-45 5.5 5.5)"/></g><circle cx="5.5" cy="5.5" r="1.9" fill="#fff"/></svg><svg class="a" style="left:358px;top:123px" width="17" height="14" viewBox="0 0 17 14"><path d="M0.6 0.6 L2.6 2.4" stroke="#4a6ea6" stroke-width="1.2" stroke-linecap="round"/><path d="M2.2 1.9 L16.2 1.9 L13.2 7.9 L3.6 7.9 Z" fill="#4a6ea6"/><g fill="#fff" opacity="0.85"><rect x="4.6" y="3" width="1" height="1.6"/><rect x="6.8" y="3" width="1" height="1.6"/><rect x="9" y="3" width="1" height="1.6"/><rect x="11.2" y="3" width="1" height="1.6"/><rect x="13.3" y="3" width="1" height="1.6"/><rect x="5" y="5.3" width="1" height="1.5"/><rect x="7.1" y="5.3" width="1" height="1.5"/><rect x="9.2" y="5.3" width="1" height="1.5"/><rect x="11.3" y="5.3" width="1" height="1.5"/></g><path d="M3.9 7.8 L4.3 10.1 L14.2 10.1" fill="none" stroke="#4a6ea6" stroke-width="1.1"/><circle cx="4.8" cy="12" r="1.1" fill="#4f9be8" stroke="#4a6ea6" stroke-width="0.4"/><circle cx="12.8" cy="12" r="1.1" fill="#4f9be8" stroke="#4a6ea6" stroke-width="0.4"/></svg><svg class="a" style="left:378px;top:121px" width="11" height="18" viewBox="0 0 11 18"><defs><linearGradient id="bkg" x1="0" y1="0" x2="0" y2="1"><stop offset="0" stop-color="#3a84cc"/><stop offset="1" stop-color="#145a9e"/></linearGradient></defs><path d="M1 2.4 L8 5.6 L8 17 L1 14.2 Z" fill="url(#bkg)"/><path d="M1 2.4 L4.2 0.8 L10.6 4 L8 5.6 Z" fill="#fff"/><path d="M1.2 2.4 L4.2 0.9 L10.4 4 M2.6 3.2 L5.8 1.7 M4.3 4.1 L7.6 2.5" stroke="#2d78c2" stroke-width="0.9" fill="none"/><path d="M8 5.6 L10.6 4 L10.6 15.2 L8 17 Z" fill="#fff"/><path d="M10.2 4.2 L10.2 15.3 L8.2 16.8" stroke="#2a72bb" stroke-width="0.9" fill="none"/><ellipse cx="3.9" cy="8.6" rx="1.7" ry="1.4" fill="#8fbbe6"/></svg><svg class="a" style="left:395px;top:123px" width="15" height="15" viewBox="0 0 15 15"><defs><radialGradient id="ig" cx="0.4" cy="0.35" r="0.7"><stop offset="0" stop-color="#f6f9fd"/><stop offset="0.55" stop-color="#dfe9f5"/><stop offset="1" stop-color="#9fc0e3"/></radialGradient></defs><circle cx="7.5" cy="7.5" r="7" fill="url(#ig)" stroke="#a9c8e8" stroke-width="0.8"/><rect x="6.4" y="3.2" width="2.2" height="1.8" fill="#2f5b9c"/><rect x="6.5" y="6" width="2" height="5" fill="#2f5b9c"/></svg>
<div class="a c" style="left:482px;top:141px;width:34px">6</div>
<div class="a c" style="left:517px;top:141px;width:87px">318210</div>
<div class="a c" style="left:605px;top:141px;width:34px">6</div>
<div class="a c" style="left:640px;top:141px;width:83px">318210</div>
<div class="a c d" style="left:724px;top:141px;width:135px">SPRING WASHER</div>
<svg class="a" style="left:343px;top:145px" width="10" height="10" viewBox="0 0 11 11"><g fill="#77ae2e"><circle cx="5.5" cy="5.5" r="4"/><rect x="4.1" y="0.2" width="2.8" height="10.6" rx="0.9"/><rect x="0.2" y="4.1" width="10.6" height="2.8" rx="0.9"/><rect x="4.1" y="0.2" width="2.8" height="10.6" rx="0.9" transform="rotate(45 5.5 5.5)"/><rect x="4.1" y="0.2" width="2.8" height="10.6" rx="0.9" transform="rotate(-45 5.5 5.5)"/></g><circle cx="5.5" cy="5.5" r="1.9" fill="#fff"/></svg><svg class="a" style="left:358px;top:143px" width="17" height="14" viewBox="0 0 17 14"><path d="M0.6 0.6 L2.6 2.4" stroke="#4a6ea6" stroke-width="1.2" stroke-linecap="round"/><path d="M2.2 1.9 L16.2 1.9 L13.2 7.9 L3.6 7.9 Z" fill="#4a6ea6"/><g fill="#fff" opacity="0.85"><rect x="4.6" y="3" width="1" height="1.6"/><rect x="6.8" y="3" width="1" height="1.6"/><rect x="9" y="3" width="1" height="1.6"/><rect x="11.2" y="3" width="1" height="1.6"/><rect x="13.3" y="3" width="1" height="1.6"/><rect x="5" y="5.3" width="1" height="1.5"/><rect x="7.1" y="5.3" width="1" height="1.5"/><rect x="9.2" y="5.3" width="1" height="1.5"/><rect x="11.3" y="5.3" width="1" height="1.5"/></g><path d="M3.9 7.8 L4.3 10.1 L14.2 10.1" fill="none" stroke="#4a6ea6" stroke-width="1.1"/><circle cx="4.8" cy="12" r="1.1" fill="#4f9be8" stroke="#4a6ea6" stroke-width="0.4"/><circle cx="12.8" cy="12" r="1.1" fill="#4f9be8" stroke="#4a6ea6" stroke-width="0.4"/></svg><svg class="a" style="left:378px;top:141px" width="11" height="18" viewBox="0 0 11 18"><defs><linearGradient id="bkg" x1="0" y1="0" x2="0" y2="1"><stop offset="0" stop-color="#3a84cc"/><stop offset="1" stop-color="#145a9e"/></linearGradient></defs><path d="M1 2.4 L8 5.6 L8 17 L1 14.2 Z" fill="url(#bkg)"/><path d="M1 2.4 L4.2 0.8 L10.6 4 L8 5.6 Z" fill="#fff"/><path d="M1.2 2.4 L4.2 0.9 L10.4 4 M2.6 3.2 L5.8 1.7 M4.3 4.1 L7.6 2.5" stroke="#2d78c2" stroke-width="0.9" fill="none"/><path d="M8 5.6 L10.6 4 L10.6 15.2 L8 17 Z" fill="#fff"/><path d="M10.2 4.2 L10.2 15.3 L8.2 16.8" stroke="#2a72bb" stroke-width="0.9" fill="none"/><ellipse cx="3.9" cy="8.6" rx="1.7" ry="1.4" fill="#8fbbe6"/></svg><svg class="a" style="left:395px;top:143px" width="15" height="15" viewBox="0 0 15 15"><defs><radialGradient id="ig" cx="0.4" cy="0.35" r="0.7"><stop offset="0" stop-color="#f6f9fd"/><stop offset="0.55" stop-color="#dfe9f5"/><stop offset="1" stop-color="#9fc0e3"/></radialGradient></defs><circle cx="7.5" cy="7.5" r="7" fill="url(#ig)" stroke="#a9c8e8" stroke-width="0.8"/><rect x="6.4" y="3.2" width="2.2" height="1.8" fill="#2f5b9c"/><rect x="6.5" y="6" width="2" height="5" fill="#2f5b9c"/></svg>
<div class="a c" style="left:482px;top:161px;width:34px">7</div>
<div class="a c" style="left:517px;top:161px;width:87px">SE14L/12</div>
<div class="a c" style="left:605px;top:161px;width:34px">1</div>
<div class="a c" style="left:640px;top:161px;width:83px">SE14L/12</div>
<div class="a c d" style="left:724px;top:161px;width:135px">ELBOW</div>
<svg class="a" style="left:343px;top:165px" width="10" height="10" viewBox="0 0 11 11"><g fill="#77ae2e"><circle cx="5.5" cy="5.5" r="4"/><rect x="4.1" y="0.2" width="2.8" height="10.6" rx="0.9"/><rect x="0.2" y="4.1" width="10.6" height="2.8" rx="0.9"/><rect x="4.1" y="0.2" width="2.8" height="10.6" rx="0.9" transform="rotate(45 5.5 5.5)"/><rect x="4.1" y="0.2" width="2.8" height="10.6" rx="0.9" transform="rotate(-45 5.5 5.5)"/></g><circle cx="5.5" cy="5.5" r="1.9" fill="#fff"/></svg><svg class="a" style="left:358px;top:163px" width="17" height="14" viewBox="0 0 17 14"><path d="M0.6 0.6 L2.6 2.4" stroke="#4a6ea6" stroke-width="1.2" stroke-linecap="round"/><path d="M2.2 1.9 L16.2 1.9 L13.2 7.9 L3.6 7.9 Z" fill="#4a6ea6"/><g fill="#fff" opacity="0.85"><rect x="4.6" y="3" width="1" height="1.6"/><rect x="6.8" y="3" width="1" height="1.6"/><rect x="9" y="3" width="1" height="1.6"/><rect x="11.2" y="3" width="1" height="1.6"/><rect x="13.3" y="3" width="1" height="1.6"/><rect x="5" y="5.3" width="1" height="1.5"/><rect x="7.1" y="5.3" width="1" height="1.5"/><rect x="9.2" y="5.3" width="1" height="1.5"/><rect x="11.3" y="5.3" width="1" height="1.5"/></g><path d="M3.9 7.8 L4.3 10.1 L14.2 10.1" fill="none" stroke="#4a6ea6" stroke-width="1.1"/><circle cx="4.8" cy="12" r="1.1" fill="#4f9be8" stroke="#4a6ea6" stroke-width="0.4"/><circle cx="12.8" cy="12" r="1.1" fill="#4f9be8" stroke="#4a6ea6" stroke-width="0.4"/></svg><svg class="a" style="left:377px;top:163px" width="15" height="15" viewBox="0 0 15 15"><defs><radialGradient id="ig" cx="0.4" cy="0.35" r="0.7"><stop offset="0" stop-color="#f6f9fd"/><stop offset="0.55" stop-color="#dfe9f5"/><stop offset="1" stop-color="#9fc0e3"/></radialGradient></defs><circle cx="7.5" cy="7.5" r="7" fill="url(#ig)" stroke="#a9c8e8" stroke-width="0.8"/><rect x="6.4" y="3.2" width="2.2" height="1.8" fill="#2f5b9c"/><rect x="6.5" y="6" width="2" height="5" fill="#2f5b9c"/></svg>
<div class="a c" style="left:482px;top:181px;width:34px">8</div>
<div class="a c" style="left:517px;top:181px;width:87px">283/107</div>
<div class="a c" style="left:605px;top:181px;width:34px">1</div>
<div class="a c" style="left:640px;top:181px;width:83px">283/107</div>
<div class="a c d" style="left:724px;top:181px;width:135px">GASKET - WATER CONNEC</div>
<svg class="a" style="left:343px;top:185px" width="10" height="10" viewBox="0 0 11 11"><g fill="#77ae2e"><circle cx="5.5" cy="5.5" r="4"/><rect x="4.1" y="0.2" width="2.8" height="10.6" rx="0.9"/><rect x="0.2" y="4.1" width="10.6" height="2.8" rx="0.9"/><rect x="4.1" y="0.2" width="2.8" height="10.6" rx="0.9" transform="rotate(45 5.5 5.5)"/><rect x="4.1" y="0.2" width="2.8" height="10.6" rx="0.9" transform="rotate(-45 5.5 5.5)"/></g><circle cx="5.5" cy="5.5" r="1.9" fill="#fff"/></svg><svg class="a" style="left:358px;top:183px" width="17" height="14" viewBox="0 0 17 14"><path d="M0.6 0.6 L2.6 2.4" stroke="#4a6ea6" stroke-width="1.2" stroke-linecap="round"/><path d="M2.2 1.9 L16.2 1.9 L13.2 7.9 L3.6 7.9 Z" fill="#4a6ea6"/><g fill="#fff" opacity="0.85"><rect x="4.6" y="3" width="1" height="1.6"/><rect x="6.8" y="3" width="1" height="1.6"/><rect x="9" y="3" width="1" height="1.6"/><rect x="11.2" y="3" width="1" height="1.6"/><rect x="13.3" y="3" width="1" height="1.6"/><rect x="5" y="5.3" width="1" height="1.5"/><rect x="7.1" y="5.3" width="1" height="1.5"/><rect x="9.2" y="5.3" width="1" height="1.5"/><rect x="11.3" y="5.3" width="1" height="1.5"/></g><path d="M3.9 7.8 L4.3 10.1 L14.2 10.1" fill="none" stroke="#4a6ea6" stroke-width="1.1"/><circle cx="4.8" cy="12" r="1.1" fill="#4f9be8" stroke="#4a6ea6" stroke-width="0.4"/><circle cx="12.8" cy="12" r="1.1" fill="#4f9be8" stroke="#4a6ea6" stroke-width="0.4"/></svg><svg class="a" style="left:377px;top:183px" width="15" height="15" viewBox="0 0 15 15"><defs><radialGradient id="ig" cx="0.4" cy="0.35" r="0.7"><stop offset="0" stop-color="#f6f9fd"/><stop offset="0.55" stop-color="#dfe9f5"/><stop offset="1" stop-color="#9fc0e3"/></radialGradient></defs><circle cx="7.5" cy="7.5" r="7" fill="url(#ig)" stroke="#a9c8e8" stroke-width="0.8"/><rect x="6.4" y="3.2" width="2.2" height="1.8" fill="#2f5b9c"/><rect x="6.5" y="6" width="2" height="5" fill="#2f5b9c"/></svg>
<div class="a c" style="left:482px;top:201px;width:34px">9</div>
<div class="a c" style="left:517px;top:201px;width:87px">312064</div>
<div class="a c" style="left:605px;top:201px;width:34px">4</div>
<div class="a c" style="left:640px;top:201px;width:83px">312064</div>
<div class="a c d" style="left:724px;top:201px;width:135px">SCREW</div>
<svg class="a" style="left:343px;top:205px" width="10" height="10" viewBox="0 0 11 11"><g fill="#77ae2e"><circle cx="5.5" cy="5.5" r="4"/><rect x="4.1" y="0.2" width="2.8" height="10.6" rx="0.9"/><rect x="0.2" y="4.1" width="10.6" height="2.8" rx="0.9"/><rect x="4.1" y="0.2" width="2.8" height="10.6" rx="0.9" transform="rotate(45 5.5 5.5)"/><rect x="4.1" y="0.2" width="2.8" height="10.6" rx="0.9" transform="rotate(-45 5.5 5.5)"/></g><circle cx="5.5" cy="5.5" r="1.9" fill="#fff"/></svg><svg class="a" style="left:358px;top:203px" width="17" height="14" viewBox="0 0 17 14"><path d="M0.6 0.6 L2.6 2.4" stroke="#4a6ea6" stroke-width="1.2" stroke-linecap="round"/><path d="M2.2 1.9 L16.2 1.9 L13.2 7.9 L3.6 7.9 Z" fill="#4a6ea6"/><g fill="#fff" opacity="0.85"><rect x="4.6" y="3" width="1" height="1.6"/><rect x="6.8" y="3" width="1" height="1.6"/><rect x="9" y="3" width="1" height="1.6"/><rect x="11.2" y="3" width="1" height="1.6"/><rect x="13.3" y="3" width="1" height="1.6"/><rect x="5" y="5.3" width="1" height="1.5"/><rect x="7.1" y="5.3" width="1" height="1.5"/><rect x="9.2" y="5.3" width="1" height="1.5"/><rect x="11.3" y="5.3" width="1" height="1.5"/></g><path d="M3.9 7.8 L4.3 10.1 L14.2 10.1" fill="none" stroke="#4a6ea6" stroke-width="1.1"/><circle cx="4.8" cy="12" r="1.1" fill="#4f9be8" stroke="#4a6ea6" stroke-width="0.4"/><circle cx="12.8" cy="12" r="1.1" fill="#4f9be8" stroke="#4a6ea6" stroke-width="0.4"/></svg><svg class="a" style="left:378px;top:201px" width="11" height="18" viewBox="0 0 11 18"><defs><linearGradient id="bkg" x1="0" y1="0" x2="0" y2="1"><stop offset="0" stop-color="#3a84cc"/><stop offset="1" stop-color="#145a9e"/></linearGradient></defs><path d="M1 2.4 L8 5.6 L8 17 L1 14.2 Z" fill="url(#bkg)"/><path d="M1 2.4 L4.2 0.8 L10.6 4 L8 5.6 Z" fill="#fff"/><path d="M1.2 2.4 L4.2 0.9 L10.4 4 M2.6 3.2 L5.8 1.7 M4.3 4.1 L7.6 2.5" stroke="#2d78c2" stroke-width="0.9" fill="none"/><path d="M8 5.6 L10.6 4 L10.6 15.2 L8 17 Z" fill="#fff"/><path d="M10.2 4.2 L10.2 15.3 L8.2 16.8" stroke="#2a72bb" stroke-width="0.9" fill="none"/><ellipse cx="3.9" cy="8.6" rx="1.7" ry="1.4" fill="#8fbbe6"/></svg><svg class="a" style="left:395px;top:203px" width="15" height="15" viewBox="0 0 15 15"><defs><radialGradient id="ig" cx="0.4" cy="0.35" r="0.7"><stop offset="0" stop-color="#f6f9fd"/><stop offset="0.55" stop-color="#dfe9f5"/><stop offset="1" stop-color="#9fc0e3"/></radialGradient></defs><circle cx="7.5" cy="7.5" r="7" fill="url(#ig)" stroke="#a9c8e8" stroke-width="0.8"/><rect x="6.4" y="3.2" width="2.2" height="1.8" fill="#2f5b9c"/><rect x="6.5" y="6" width="2" height="5" fill="#2f5b9c"/></svg>
<div class="a c" style="left:482px;top:221px;width:34px">10</div>
<div class="a c" style="left:517px;top:221px;width:87px">2086/010</div>
<div class="a c" style="left:605px;top:221px;width:34px">4</div>
<div class="a c" style="left:640px;top:221px;width:83px">2086/010</div>
<div class="a c d" style="left:724px;top:221px;width:135px">SPRING WASHER</div>
<svg class="a" style="left:343px;top:225px" width="10" height="10" viewBox="0 0 11 11"><g fill="#77ae2e"><circle cx="5.5" cy="5.5" r="4"/><rect x="4.1" y="0.2" width="2.8" height="10.6" rx="0.9"/><rect x="0.2" y="4.1" width="10.6" height="2.8" rx="0.9"/><rect x="4.1" y="0.2" width="2.8" height="10.6" rx="0.9" transform="rotate(45 5.5 5.5)"/><rect x="4.1" y="0.2" width="2.8" height="10.6" rx="0.9" transform="rotate(-45 5.5 5.5)"/></g><circle cx="5.5" cy="5.5" r="1.9" fill="#fff"/></svg><svg class="a" style="left:358px;top:223px" width="17" height="14" viewBox="0 0 17 14"><path d="M0.6 0.6 L2.6 2.4" stroke="#4a6ea6" stroke-width="1.2" stroke-linecap="round"/><path d="M2.2 1.9 L16.2 1.9 L13.2 7.9 L3.6 7.9 Z" fill="#4a6ea6"/><g fill="#fff" opacity="0.85"><rect x="4.6" y="3" width="1" height="1.6"/><rect x="6.8" y="3" width="1" height="1.6"/><rect x="9" y="3" width="1" height="1.6"/><rect x="11.2" y="3" width="1" height="1.6"/><rect x="13.3" y="3" width="1" height="1.6"/><rect x="5" y="5.3" width="1" height="1.5"/><rect x="7.1" y="5.3" width="1" height="1.5"/><rect x="9.2" y="5.3" width="1" height="1.5"/><rect x="11.3" y="5.3" width="1" height="1.5"/></g><path d="M3.9 7.8 L4.3 10.1 L14.2 10.1" fill="none" stroke="#4a6ea6" stroke-width="1.1"/><circle cx="4.8" cy="12" r="1.1" fill="#4f9be8" stroke="#4a6ea6" stroke-width="0.4"/><circle cx="12.8" cy="12" r="1.1" fill="#4f9be8" stroke="#4a6ea6" stroke-width="0.4"/></svg><svg class="a" style="left:377px;top:223px" width="15" height="15" viewBox="0 0 15 15"><defs><radialGradient id="ig" cx="0.4" cy="0.35" r="0.7"><stop offset="0" stop-color="#f6f9fd"/><stop offset="0.55" stop-color="#dfe9f5"/><stop offset="1" stop-color="#9fc0e3"/></radialGradient></defs><circle cx="7.5" cy="7.5" r="7" fill="url(#ig)" stroke="#a9c8e8" stroke-width="0.8"/><rect x="6.4" y="3.2" width="2.2" height="1.8" fill="#2f5b9c"/><rect x="6.5" y="6" width="2" height="5" fill="#2f5b9c"/></svg>
<div class="a c" style="left:482px;top:241px;width:34px">11</div>
<div class="a c" style="left:517px;top:241px;width:87px">422/10</div>
<div class="a c" style="left:605px;top:241px;width:34px">1</div>
<div class="a c" style="left:640px;top:241px;width:83px">422/10</div>
<div class="a c d" style="left:724px;top:241px;width:135px">HOSE</div>
<svg class="a" style="left:343px;top:245px" width="10" height="10" viewBox="0 0 11 11"><g fill="#77ae2e"><circle cx="5.5" cy="5.5" r="4"/><rect x="4.1" y="0.2" width="2.8" height="10.6" rx="0.9"/><rect x="0.2" y="4.1" width="10.6" height="2.8" rx="0.9"/><rect x="4.1" y="0.2" width="2.8" height="10.6" rx="0.9" transform="rotate(45 5.5 5.5)"/><rect x="4.1" y="0.2" width="2.8" height="10.6" rx="0.9" transform="rotate(-45 5.5 5.5)"/></g><circle cx="5.5" cy="5.5" r="1.9" fill="#fff"/></svg><svg class="a" style="left:358px;top:243px" width="17" height="14" viewBox="0 0 17 14"><path d="M0.6 0.6 L2.6 2.4" stroke="#4a6ea6" stroke-width="1.2" stroke-linecap="round"/><path d="M2.2 1.9 L16.2 1.9 L13.2 7.9 L3.6 7.9 Z" fill="#4a6ea6"/><g fill="#fff" opacity="0.85"><rect x="4.6" y="3" width="1" height="1.6"/><rect x="6.8" y="3" width="1" height="1.6"/><rect x="9" y="3" width="1" height="1.6"/><rect x="11.2" y="3" width="1" height="1.6"/><rect x="13.3" y="3" width="1" height="1.6"/><rect x="5" y="5.3" width="1" height="1.5"/><rect x="7.1" y="5.3" width="1" height="1.5"/><rect x="9.2" y="5.3" width="1" height="1.5"/><rect x="11.3" y="5.3" width="1" height="1.5"/></g><path d="M3.9 7.8 L4.3 10.1 L14.2 10.1" fill="none" stroke="#4a6ea6" stroke-width="1.1"/><circle cx="4.8" cy="12" r="1.1" fill="#4f9be8" stroke="#4a6ea6" stroke-width="0.4"/><circle cx="12.8" cy="12" r="1.1" fill="#4f9be8" stroke="#4a6ea6" stroke-width="0.4"/></svg><svg class="a" style="left:377px;top:243px" width="15" height="15" viewBox="0 0 15 15"><defs><radialGradient id="ig" cx="0.4" cy="0.35" r="0.7"><stop offset="0" stop-color="#f6f9fd"/><stop offset="0.55" stop-color="#dfe9f5"/><stop offset="1" stop-color="#9fc0e3"/></radialGradient></defs><circle cx="7.5" cy="7.5" r="7" fill="url(#ig)" stroke="#a9c8e8" stroke-width="0.8"/><rect x="6.4" y="3.2" width="2.2" height="1.8" fill="#2f5b9c"/><rect x="6.5" y="6" width="2" height="5" fill="#2f5b9c"/></svg>
<div class="a c" style="left:482px;top:261px;width:34px">12</div>
<div class="a c" style="left:517px;top:261px;width:87px">525/57M</div>
<div class="a c" style="left:605px;top:261px;width:34px">2</div>
<div class="a c" style="left:640px;top:261px;width:83px">525/57M</div>
<div class="a c d" style="left:724px;top:261px;width:135px">HOSE CLIP</div>
<svg class="a" style="left:343px;top:265px" width="10" height="10" viewBox="0 0 11 11"><g fill="#77ae2e"><circle cx="5.5" cy="5.5" r="4"/><rect x="4.1" y="0.2" width="2.8" height="10.6" rx="0.9"/><rect x="0.2" y="4.1" width="10.6" height="2.8" rx="0.9"/><rect x="4.1" y="0.2" width="2.8" height="10.6" rx="0.9" transform="rotate(45 5.5 5.5)"/><rect x="4.1" y="0.2" width="2.8" height="10.6" rx="0.9" transform="rotate(-45 5.5 5.5)"/></g><circle cx="5.5" cy="5.5" r="1.9" fill="#fff"/></svg><svg class="a" style="left:358px;top:263px" width="17" height="14" viewBox="0 0 17 14"><path d="M0.6 0.6 L2.6 2.4" stroke="#4a6ea6" stroke-width="1.2" stroke-linecap="round"/><path d="M2.2 1.9 L16.2 1.9 L13.2 7.9 L3.6 7.9 Z" fill="#4a6ea6"/><g fill="#fff" opacity="0.85"><rect x="4.6" y="3" width="1" height="1.6"/><rect x="6.8" y="3" width="1" height="1.6"/><rect x="9" y="3" width="1" height="1.6"/><rect x="11.2" y="3" width="1" height="1.6"/><rect x="13.3" y="3" width="1" height="1.6"/><rect x="5" y="5.3" width="1" height="1.5"/><rect x="7.1" y="5.3" width="1" height="1.5"/><rect x="9.2" y="5.3" width="1" height="1.5"/><rect x="11.3" y="5.3" width="1" height="1.5"/></g><path d="M3.9 7.8 L4.3 10.1 L14.2 10.1" fill="none" stroke="#4a6ea6" stroke-width="1.1"/><circle cx="4.8" cy="12" r="1.1" fill="#4f9be8" stroke="#4a6ea6" stroke-width="0.4"/><circle cx="12.8" cy="12" r="1.1" fill="#4f9be8" stroke="#4a6ea6" stroke-width="0.4"/></svg><svg class="a" style="left:377px;top:263px" width="15" height="15" viewBox="0 0 15 15"><defs><radialGradient id="ig" cx="0.4" cy="0.35" r="0.7"><stop offset="0" stop-color="#f6f9fd"/><stop offset="0.55" stop-color="#dfe9f5"/><stop offset="1" stop-color="#9fc0e3"/></radialGradient></defs><circle cx="7.5" cy="7.5" r="7" fill="url(#ig)" stroke="#a9c8e8" stroke-width="0.8"/><rect x="6.4" y="3.2" width="2.2" height="1.8" fill="#2f5b9c"/><rect x="6.5" y="6" width="2" height="5" fill="#2f5b9c"/></svg>
<div class="a" style="left:337px;top:280px;width:732px;height:21px;background:#fff"></div>
<div class="a c sel" style="left:337px;top:281px;width:79px"></div>
<div class="a c sel" style="left:417px;top:281px;width:64px"></div>
<div class="a c sel" style="left:482px;top:281px;width:34px">13</div>
<div class="a c sel" style="left:517px;top:281px;width:87px">SE14BN/12</div>
<div class="a c sel" style="left:605px;top:281px;width:34px">1</div>
<div class="a c sel" style="left:640px;top:281px;width:83px">SE14BN/12</div>
<div class="a c d sel" style="left:724px;top:281px;width:135px">PIPE - COOLANT</div>
<div class="a c sel" style="left:860px;top:281px;width:51px"></div>
<div class="a c sel" style="left:912px;top:281px;width:41px"></div>
<div class="a c sel" style="left:954px;top:281px;width:115px"></div>
<svg class="a" style="left:341px;top:283px" width="16" height="16" viewBox="0 0 16 16"><g fill="#4a6fd8"><circle cx="5" cy="5" r="3.2"/><rect x="4" y="0.8" width="2" height="8.4" rx="0.6"/><rect x="0.8" y="4" width="8.4" height="2" rx="0.6"/><rect x="4" y="0.8" width="2" height="8.4" rx="0.6" transform="rotate(45 5 5)"/><rect x="4" y="0.8" width="2" height="8.4" rx="0.6" transform="rotate(-45 5 5)"/></g><circle cx="5" cy="5" r="1.6" fill="#3d9cff"/><g fill="#86c232"><circle cx="10" cy="10" r="3.2"/><rect x="9" y="5.8" width="2" height="8.4" rx="0.6"/><rect x="5.8" y="9" width="8.4" height="2" rx="0.6"/><rect x="9" y="5.8" width="2" height="8.4" rx="0.6" transform="rotate(45 10 10)"/><rect x="9" y="5.8" width="2" height="8.4" rx="0.6" transform="rotate(-45 10 10)"/></g><circle cx="10" cy="10" r="1.6" fill="#3d9cff"/></svg><svg class="a" style="left:358px;top:283px" width="17" height="14" viewBox="0 0 17 14"><path d="M0.6 0.6 L2.6 2.4" stroke="#6c7f96" stroke-width="1.2" stroke-linecap="round"/><path d="M2.2 1.9 L16.2 1.9 L13.2 7.9 L3.6 7.9 Z" fill="#6c7f96"/><g fill="#fff" opacity="0.85"><rect x="4.6" y="3" width="1" height="1.6"/><rect x="6.8" y="3" width="1" height="1.6"/><rect x="9" y="3" width="1" height="1.6"/><rect x="11.2" y="3" width="1" height="1.6"/><rect x="13.3" y="3" width="1" height="1.6"/><rect x="5" y="5.3" width="1" height="1.5"/><rect x="7.1" y="5.3" width="1" height="1.5"/><rect x="9.2" y="5.3" width="1" height="1.5"/><rect x="11.3" y="5.3" width="1" height="1.5"/></g><path d="M3.9 7.8 L4.3 10.1 L14.2 10.1" fill="none" stroke="#6c7f96" stroke-width="1.1"/><circle cx="4.8" cy="12" r="1.1" fill="#8fa6c0" stroke="#6c7f96" stroke-width="0.4"/><circle cx="12.8" cy="12" r="1.1" fill="#8fa6c0" stroke="#6c7f96" stroke-width="0.4"/></svg><svg class="a" style="left:377px;top:283px" width="15" height="15" viewBox="0 0 15 15"><defs><radialGradient id="ig" cx="0.4" cy="0.35" r="0.7"><stop offset="0" stop-color="#f6f9fd"/><stop offset="0.55" stop-color="#dfe9f5"/><stop offset="1" stop-color="#9fc0e3"/></radialGradient></defs><circle cx="7.5" cy="7.5" r="7" fill="url(#ig)" stroke="#a9c8e8" stroke-width="0.8"/><rect x="6.4" y="3.2" width="2.2" height="1.8" fill="#2f5b9c"/><rect x="6.5" y="6" width="2" height="5" fill="#2f5b9c"/></svg>
<div class="a c" style="left:482px;top:301px;width:34px">16</div>
<div class="a c" style="left:517px;top:301px;width:87px">576/241</div>
<div class="a c" style="left:605px;top:301px;width:34px">1</div>
<div class="a c" style="left:640px;top:301px;width:83px">576/241</div>
<div class="a c d" style="left:724px;top:301px;width:135px">SEAL - O RING</div>
<svg class="a" style="left:343px;top:305px" width="10" height="10" viewBox="0 0 11 11"><g fill="#77ae2e"><circle cx="5.5" cy="5.5" r="4"/><rect x="4.1" y="0.2" width="2.8" height="10.6" rx="0.9"/><rect x="0.2" y="4.1" width="10.6" height="2.8" rx="0.9"/><rect x="4.1" y="0.2" width="2.8" height="10.6" rx="0.9" transform="rotate(45 5.5 5.5)"/><rect x="4.1" y="0.2" width="2.8" height="10.6" rx="0.9" transform="rotate(-45 5.5 5.5)"/></g><circle cx="5.5" cy="5.5" r="1.9" fill="#fff"/></svg><svg class="a" style="left:358px;top:303px" width="17" height="14" viewBox="0 0 17 14"><path d="M0.6 0.6 L2.6 2.4" stroke="#4a6ea6" stroke-width="1.2" stroke-linecap="round"/><path d="M2.2 1.9 L16.2 1.9 L13.2 7.9 L3.6 7.9 Z" fill="#4a6ea6"/><g fill="#fff" opacity="0.85"><rect x="4.6" y="3" width="1" height="1.6"/><rect x="6.8" y="3" width="1" height="1.6"/><rect x="9" y="3" width="1" height="1.6"/><rect x="11.2" y="3" width="1" height="1.6"/><rect x="13.3" y="3" width="1" height="1.6"/><rect x="5" y="5.3" width="1" height="1.5"/><rect x="7.1" y="5.3" width="1" height="1.5"/><rect x="9.2" y="5.3" width="1" height="1.5"/><rect x="11.3" y="5.3" width="1" height="1.5"/></g><path d="M3.9 7.8 L4.3 10.1 L14.2 10.1" fill="none" stroke="#4a6ea6" stroke-width="1.1"/><circle cx="4.8" cy="12" r="1.1" fill="#4f9be8" stroke="#4a6ea6" stroke-width="0.4"/><circle cx="12.8" cy="12" r="1.1" fill="#4f9be8" stroke="#4a6ea6" stroke-width="0.4"/></svg><svg class="a" style="left:377px;top:303px" width="15" height="15" viewBox="0 0 15 15"><defs><radialGradient id="ig" cx="0.4" cy="0.35" r="0.7"><stop offset="0" stop-color="#f6f9fd"/><stop offset="0.55" stop-color="#dfe9f5"/><stop offset="1" stop-color="#9fc0e3"/></radialGradient></defs><circle cx="7.5" cy="7.5" r="7" fill="url(#ig)" stroke="#a9c8e8" stroke-width="0.8"/><rect x="6.4" y="3.2" width="2.2" height="1.8" fill="#2f5b9c"/><rect x="6.5" y="6" width="2" height="5" fill="#2f5b9c"/></svg>
<div class="a c" style="left:482px;top:321px;width:34px">17</div>
<div class="a c" style="left:517px;top:321px;width:87px">310067</div>
<div class="a c" style="left:605px;top:321px;width:34px">2</div>
<div class="a c" style="left:640px;top:321px;width:83px">310067</div>
<div class="a c d" style="left:724px;top:321px;width:135px">BOLT</div>
<svg class="a" style="left:343px;top:325px" width="10" height="10" viewBox="0 0 11 11"><g fill="#77ae2e"><circle cx="5.5" cy="5.5" r="4"/><rect x="4.1" y="0.2" width="2.8" height="10.6" rx="0.9"/><rect x="0.2" y="4.1" width="10.6" height="2.8" rx="0.9"/><rect x="4.1" y="0.2" width="2.8" height="10.6" rx="0.9" transform="rotate(45 5.5 5.5)"/><rect x="4.1" y="0.2" width="2.8" height="10.6" rx="0.9" transform="rotate(-45 5.5 5.5)"/></g><circle cx="5.5" cy="5.5" r="1.9" fill="#fff"/></svg><svg class="a" style="left:358px;top:323px" width="17" height="14" viewBox="0 0 17 14"><path d="M0.6 0.6 L2.6 2.4" stroke="#4a6ea6" stroke-width="1.2" stroke-linecap="round"/><path d="M2.2 1.9 L16.2 1.9 L13.2 7.9 L3.6 7.9 Z" fill="#4a6ea6"/><g fill="#fff" opacity="0.85"><rect x="4.6" y="3" width="1" height="1.6"/><rect x="6.8" y="3" width="1" height="1.6"/><rect x="9" y="3" width="1" height="1.6"/><rect x="11.2" y="3" width="1" height="1.6"/><rect x="13.3" y="3" width="1" height="1.6"/><rect x="5" y="5.3" width="1" height="1.5"/><rect x="7.1" y="5.3" width="1" height="1.5"/><rect x="9.2" y="5.3" width="1" height="1.5"/><rect x="11.3" y="5.3" width="1" height="1.5"/></g><path d="M3.9 7.8 L4.3 10.1 L14.2 10.1" fill="none" stroke="#4a6ea6" stroke-width="1.1"/><circle cx="4.8" cy="12" r="1.1" fill="#4f9be8" stroke="#4a6ea6" stroke-width="0.4"/><circle cx="12.8" cy="12" r="1.1" fill="#4f9be8" stroke="#4a6ea6" stroke-width="0.4"/></svg><svg class="a" style="left:377px;top:323px" width="15" height="15" viewBox="0 0 15 15"><defs><radialGradient id="ig" cx="0.4" cy="0.35" r="0.7"><stop offset="0" stop-color="#f6f9fd"/><stop offset="0.55" stop-color="#dfe9f5"/><stop offset="1" stop-color="#9fc0e3"/></radialGradient></defs><circle cx="7.5" cy="7.5" r="7" fill="url(#ig)" stroke="#a9c8e8" stroke-width="0.8"/><rect x="6.4" y="3.2" width="2.2" height="1.8" fill="#2f5b9c"/><rect x="6.5" y="6" width="2" height="5" fill="#2f5b9c"/></svg>
<div class="a c" style="left:482px;top:341px;width:34px">18</div>
<div class="a c" style="left:517px;top:341px;width:87px">312064</div>
<div class="a c" style="left:605px;top:341px;width:34px">2</div>
<div class="a c" style="left:640px;top:341px;width:83px">312064</div>
<div class="a c d" style="left:724px;top:341px;width:135px">SCREW</div>
<svg class="a" style="left:343px;top:345px" width="10" height="10" viewBox="0 0 11 11"><g fill="#77ae2e"><circle cx="5.5" cy="5.5" r="4"/><rect x="4.1" y="0.2" width="2.8" height="10.6" rx="0.9"/><rect x="0.2" y="4.1" width="10.6" height="2.8" rx="0.9"/><rect x="4.1" y="0.2" width="2.8" height="10.6" rx="0.9" transform="rotate(45 5.5 5.5)"/><rect x="4.1" y="0.2" width="2.8" height="10.6" rx="0.9" transform="rotate(-45 5.5 5.5)"/></g><circle cx="5.5" cy="5.5" r="1.9" fill="#fff"/></svg><svg class="a" style="left:358px;top:343px" width="17" height="14" viewBox="0 0 17 14"><path d="M0.6 0.6 L2.6 2.4" stroke="#4a6ea6" stroke-width="1.2" stroke-linecap="round"/><path d="M2.2 1.9 L16.2 1.9 L13.2 7.9 L3.6 7.9 Z" fill="#4a6ea6"/><g fill="#fff" opacity="0.85"><rect x="4.6" y="3" width="1" height="1.6"/><rect x="6.8" y="3" width="1" height="1.6"/><rect x="9" y="3" width="1" height="1.6"/><rect x="11.2" y="3" width="1" height="1.6"/><rect x="13.3" y="3" width="1" height="1.6"/><rect x="5" y="5.3" width="1" height="1.5"/><rect x="7.1" y="5.3" width="1" height="1.5"/><rect x="9.2" y="5.3" width="1" height="1.5"/><rect x="11.3" y="5.3" width="1" height="1.5"/></g><path d="M3.9 7.8 L4.3 10.1 L14.2 10.1" fill="none" stroke="#4a6ea6" stroke-width="1.1"/><circle cx="4.8" cy="12" r="1.1" fill="#4f9be8" stroke="#4a6ea6" stroke-width="0.4"/><circle cx="12.8" cy="12" r="1.1" fill="#4f9be8" stroke="#4a6ea6" stroke-width="0.4"/></svg><svg class="a" style="left:378px;top:341px" width="11" height="18" viewBox="0 0 11 18"><defs><linearGradient id="bkg" x1="0" y1="0" x2="0" y2="1"><stop offset="0" stop-color="#3a84cc"/><stop offset="1" stop-color="#145a9e"/></linearGradient></defs><path d="M1 2.4 L8 5.6 L8 17 L1 14.2 Z" fill="url(#bkg)"/><path d="M1 2.4 L4.2 0.8 L10.6 4 L8 5.6 Z" fill="#fff"/><path d="M1.2 2.4 L4.2 0.9 L10.4 4 M2.6 3.2 L5.8 1.7 M4.3 4.1 L7.6 2.5" stroke="#2d78c2" stroke-width="0.9" fill="none"/><path d="M8 5.6 L10.6 4 L10.6 15.2 L8 17 Z" fill="#fff"/><path d="M10.2 4.2 L10.2 15.3 L8.2 16.8" stroke="#2a72bb" stroke-width="0.9" fill="none"/><ellipse cx="3.9" cy="8.6" rx="1.7" ry="1.4" fill="#8fbbe6"/></svg><svg class="a" style="left:395px;top:343px" width="15" height="15" viewBox="0 0 15 15"><defs><radialGradient id="ig" cx="0.4" cy="0.35" r="0.7"><stop offset="0" stop-color="#f6f9fd"/><stop offset="0.55" stop-color="#dfe9f5"/><stop offset="1" stop-color="#9fc0e3"/></radialGradient></defs><circle cx="7.5" cy="7.5" r="7" fill="url(#ig)" stroke="#a9c8e8" stroke-width="0.8"/><rect x="6.4" y="3.2" width="2.2" height="1.8" fill="#2f5b9c"/><rect x="6.5" y="6" width="2" height="5" fill="#2f5b9c"/></svg>
<div class="a c" style="left:482px;top:361px;width:34px">19</div>
<div class="a c" style="left:517px;top:361px;width:87px">2086/010</div>
<div class="a c" style="left:605px;top:361px;width:34px">4</div>
<div class="a c" style="left:640px;top:361px;width:83px">2086/010</div>
<div class="a c d" style="left:724px;top:361px;width:135px">SPRING WASHER</div>
<svg class="a" style="left:343px;top:365px" width="10" height="10" viewBox="0 0 11 11"><g fill="#77ae2e"><circle cx="5.5" cy="5.5" r="4"/><rect x="4.1" y="0.2" width="2.8" height="10.6" rx="0.9"/><rect x="0.2" y="4.1" width="10.6" height="2.8" rx="0.9"/><rect x="4.1" y="0.2" width="2.8" height="10.6" rx="0.9" transform="rotate(45 5.5 5.5)"/><rect x="4.1" y="0.2" width="2.8" height="10.6" rx="0.9" transform="rotate(-45 5.5 5.5)"/></g><circle cx="5.5" cy="5.5" r="1.9" fill="#fff"/></svg><svg class="a" style="left:358px;top:363px" width="17" height="14" viewBox="0 0 17 14"><path d="M0.6 0.6 L2.6 2.4" stroke="#4a6ea6" stroke-width="1.2" stroke-linecap="round"/><path d="M2.2 1.9 L16.2 1.9 L13.2 7.9 L3.6 7.9 Z" fill="#4a6ea6"/><g fill="#fff" opacity="0.85"><rect x="4.6" y="3" width="1" height="1.6"/><rect x="6.8" y="3" width="1" height="1.6"/><rect x="9" y="3" width="1" height="1.6"/><rect x="11.2" y="3" width="1" height="1.6"/><rect x="13.3" y="3" width="1" height="1.6"/><rect x="5" y="5.3" width="1" height="1.5"/><rect x="7.1" y="5.3" width="1" height="1.5"/><rect x="9.2" y="5.3" width="1" height="1.5"/><rect x="11.3" y="5.3" width="1" height="1.5"/></g><path d="M3.9 7.8 L4.3 10.1 L14.2 10.1" fill="none" stroke="#4a6ea6" stroke-width="1.1"/><circle cx="4.8" cy="12" r="1.1" fill="#4f9be8" stroke="#4a6ea6" stroke-width="0.4"/><circle cx="12.8" cy="12" r="1.1" fill="#4f9be8" stroke="#4a6ea6" stroke-width="0.4"/></svg><svg class="a" style="left:377px;top:363px" width="15" height="15" viewBox="0 0 15 15"><defs><radialGradient id="ig" cx="0.4" cy="0.35" r="0.7"><stop offset="0" stop-color="#f6f9fd"/><stop offset="0.55" stop-color="#dfe9f5"/><stop offset="1" stop-color="#9fc0e3"/></radialGradient></defs><circle cx="7.5" cy="7.5" r="7" fill="url(#ig)" stroke="#a9c8e8" stroke-width="0.8"/><rect x="6.4" y="3.2" width="2.2" height="1.8" fill="#2f5b9c"/><rect x="6.5" y="6" width="2" height="5" fill="#2f5b9c"/></svg>
<div class="a c" style="left:482px;top:381px;width:34px">20</div>
<div class="a c" style="left:517px;top:381px;width:87px">341/180</div>
<div class="a c" style="left:605px;top:381px;width:34px">1</div>
<div class="a c" style="left:640px;top:381px;width:83px">341/180</div>
<div class="a c d" style="left:724px;top:381px;width:135px">GASKET - WATER CONNEC</div>
<svg class="a" style="left:343px;top:385px" width="10" height="10" viewBox="0 0 11 11"><g fill="#77ae2e"><circle cx="5.5" cy="5.5" r="4"/><rect x="4.1" y="0.2" width="2.8" height="10.6" rx="0.9"/><rect x="0.2" y="4.1" width="10.6" height="2.8" rx="0.9"/><rect x="4.1" y="0.2" width="2.8" height="10.6" rx="0.9" transform="rotate(45 5.5 5.5)"/><rect x="4.1" y="0.2" width="2.8" height="10.6" rx="0.9" transform="rotate(-45 5.5 5.5)"/></g><circle cx="5.5" cy="5.5" r="1.9" fill="#fff"/></svg><svg class="a" style="left:358px;top:383px" width="17" height="14" viewBox="0 0 17 14"><path d="M0.6 0.6 L2.6 2.4" stroke="#4a6ea6" stroke-width="1.2" stroke-linecap="round"/><path d="M2.2 1.9 L16.2 1.9 L13.2 7.9 L3.6 7.9 Z" fill="#4a6ea6"/><g fill="#fff" opacity="0.85"><rect x="4.6" y="3" width="1" height="1.6"/><rect x="6.8" y="3" width="1" height="1.6"/><rect x="9" y="3" width="1" height="1.6"/><rect x="11.2" y="3" width="1" height="1.6"/><rect x="13.3" y="3" width="1" height="1.6"/><rect x="5" y="5.3" width="1" height="1.5"/><rect x="7.1" y="5.3" width="1" height="1.5"/><rect x="9.2" y="5.3" width="1" height="1.5"/><rect x="11.3" y="5.3" width="1" height="1.5"/></g><path d="M3.9 7.8 L4.3 10.1 L14.2 10.1" fill="none" stroke="#4a6ea6" stroke-width="1.1"/><circle cx="4.8" cy="12" r="1.1" fill="#4f9be8" stroke="#4a6ea6" stroke-width="0.4"/><circle cx="12.8" cy="12" r="1.1" fill="#4f9be8" stroke="#4a6ea6" stroke-width="0.4"/></svg><svg class="a" style="left:377px;top:383px" width="15" height="15" viewBox="0 0 15 15"><defs><radialGradient id="ig" cx="0.4" cy="0.35" r="0.7"><stop offset="0" stop-color="#f6f9fd"/><stop offset="0.55" stop-color="#dfe9f5"/><stop offset="1" stop-color="#9fc0e3"/></radialGradient></defs><circle cx="7.5" cy="7.5" r="7" fill="url(#ig)" stroke="#a9c8e8" stroke-width="0.8"/><rect x="6.4" y="3.2" width="2.2" height="1.8" fill="#2f5b9c"/><rect x="6.5" y="6" width="2" height="5" fill="#2f5b9c"/></svg>
<div class="a c" style="left:482px;top:401px;width:34px">21</div>
<div class="a c" style="left:517px;top:401px;width:87px">312064</div>
<div class="a c" style="left:605px;top:401px;width:34px">2</div>
<div class="a c" style="left:640px;top:401px;width:83px">312064</div>
<div class="a c d" style="left:724px;top:401px;width:135px">SCREW</div>
<svg class="a" style="left:343px;top:405px" width="10" height="10" viewBox="0 0 11 11"><g fill="#77ae2e"><circle cx="5.5" cy="5.5" r="4"/><rect x="4.1" y="0.2" width="2.8" height="10.6" rx="0.9"/><rect x="0.2" y="4.1" width="10.6" height="2.8" rx="0.9"/><rect x="4.1" y="0.2" width="2.8" height="10.6" rx="0.9" transform="rotate(45 5.5 5.5)"/><rect x="4.1" y="0.2" width="2.8" height="10.6" rx="0.9" transform="rotate(-45 5.5 5.5)"/></g><circle cx="5.5" cy="5.5" r="1.9" fill="#fff"/></svg><svg class="a" style="left:358px;top:403px" width="17" height="14" viewBox="0 0 17 14"><path d="M0.6 0.6 L2.6 2.4" stroke="#4a6ea6" stroke-width="1.2" stroke-linecap="round"/><path d="M2.2 1.9 L16.2 1.9 L13.2 7.9 L3.6 7.9 Z" fill="#4a6ea6"/><g fill="#fff" opacity="0.85"><rect x="4.6" y="3" width="1" height="1.6"/><rect x="6.8" y="3" width="1" height="1.6"/><rect x="9" y="3" width="1" height="1.6"/><rect x="11.2" y="3" width="1" height="1.6"/><rect x="13.3" y="3" width="1" height="1.6"/><rect x="5" y="5.3" width="1" height="1.5"/><rect x="7.1" y="5.3" width="1" height="1.5"/><rect x="9.2" y="5.3" width="1" height="1.5"/><rect x="11.3" y="5.3" width="1" height="1.5"/></g><path d="M3.9 7.8 L4.3 10.1 L14.2 10.1" fill="none" stroke="#4a6ea6" stroke-width="1.1"/><circle cx="4.8" cy="12" r="1.1" fill="#4f9be8" stroke="#4a6ea6" stroke-width="0.4"/><circle cx="12.8" cy="12" r="1.1" fill="#4f9be8" stroke="#4a6ea6" stroke-width="0.4"/></svg><svg class="a" style="left:378px;top:401px" width="11" height="18" viewBox="0 0 11 18"><defs><linearGradient id="bkg" x1="0" y1="0" x2="0" y2="1"><stop offset="0" stop-color="#3a84cc"/><stop offset="1" stop-color="#145a9e"/></linearGradient></defs><path d="M1 2.4 L8 5.6 L8 17 L1 14.2 Z" fill="url(#bkg)"/><path d="M1 2.4 L4.2 0.8 L10.6 4 L8 5.6 Z" fill="#fff"/><path d="M1.2 2.4 L4.2 0.9 L10.4 4 M2.6 3.2 L5.8 1.7 M4.3 4.1 L7.6 2.5" stroke="#2d78c2" stroke-width="0.9" fill="none"/><path d="M8 5.6 L10.6 4 L10.6 15.2 L8 17 Z" fill="#fff"/><path d="M10.2 4.2 L10.2 15.3 L8.2 16.8" stroke="#2a72bb" stroke-width="0.9" fill="none"/><ellipse cx="3.9" cy="8.6" rx="1.7" ry="1.4" fill="#8fbbe6"/></svg><svg class="a" style="left:395px;top:403px" width="15" height="15" viewBox="0 0 15 15"><defs><radialGradient id="ig" cx="0.4" cy="0.35" r="0.7"><stop offset="0" stop-color="#f6f9fd"/><stop offset="0.55" stop-color="#dfe9f5"/><stop offset="1" stop-color="#9fc0e3"/></radialGradient></defs><circle cx="7.5" cy="7.5" r="7" fill="url(#ig)" stroke="#a9c8e8" stroke-width="0.8"/><rect x="6.4" y="3.2" width="2.2" height="1.8" fill="#2f5b9c"/><rect x="6.5" y="6" width="2" height="5" fill="#2f5b9c"/></svg>
<div class="a c" style="left:482px;top:421px;width:34px">22</div>
<div class="a c" style="left:517px;top:421px;width:87px">2086/010</div>
<div class="a c" style="left:605px;top:421px;width:34px">4</div>
<div class="a c" style="left:640px;top:421px;width:83px">2086/010</div>
<div class="a c d" style="left:724px;top:421px;width:135px">SPRING WASHER</div>
<svg class="a" style="left:343px;top:425px" width="10" height="10" viewBox="0 0 11 11"><g fill="#77ae2e"><circle cx="5.5" cy="5.5" r="4"/><rect x="4.1" y="0.2" width="2.8" height="10.6" rx="0.9"/><rect x="0.2" y="4.1" width="10.6" height="2.8" rx="0.9"/><rect x="4.1" y="0.2" width="2.8" height="10.6" rx="0.9" transform="rotate(45 5.5 5.5)"/><rect x="4.1" y="0.2" width="2.8" height="10.6" rx="0.9" transform="rotate(-45 5.5 5.5)"/></g><circle cx="5.5" cy="5.5" r="1.9" fill="#fff"/></svg><svg class="a" style="left:358px;top:423px" width="17" height="14" viewBox="0 0 17 14"><path d="M0.6 0.6 L2.6 2.4" stroke="#4a6ea6" stroke-width="1.2" stroke-linecap="round"/><path d="M2.2 1.9 L16.2 1.9 L13.2 7.9 L3.6 7.9 Z" fill="#4a6ea6"/><g fill="#fff" opacity="0.85"><rect x="4.6" y="3" width="1" height="1.6"/><rect x="6.8" y="3" width="1" height="1.6"/><rect x="9" y="3" width="1" height="1.6"/><rect x="11.2" y="3" width="1" height="1.6"/><rect x="13.3" y="3" width="1" height="1.6"/><rect x="5" y="5.3" width="1" height="1.5"/><rect x="7.1" y="5.3" width="1" height="1.5"/><rect x="9.2" y="5.3" width="1" height="1.5"/><rect x="11.3" y="5.3" width="1" height="1.5"/></g><path d="M3.9 7.8 L4.3 10.1 L14.2 10.1" fill="none" stroke="#4a6ea6" stroke-width="1.1"/><circle cx="4.8" cy="12" r="1.1" fill="#4f9be8" stroke="#4a6ea6" stroke-width="0.4"/><circle cx="12.8" cy="12" r="1.1" fill="#4f9be8" stroke="#4a6ea6" stroke-width="0.4"/></svg><svg class="a" style="left:377px;top:423px" width="15" height="15" viewBox="0 0 15 15"><defs><radialGradient id="ig" cx="0.4" cy="0.35" r="0.7"><stop offset="0" stop-color="#f6f9fd"/><stop offset="0.55" stop-color="#dfe9f5"/><stop offset="1" stop-color="#9fc0e3"/></radialGradient></defs><circle cx="7.5" cy="7.5" r="7" fill="url(#ig)" stroke="#a9c8e8" stroke-width="0.8"/><rect x="6.4" y="3.2" width="2.2" height="1.8" fill="#2f5b9c"/><rect x="6.5" y="6" width="2" height="5" fill="#2f5b9c"/></svg>
<div class="a c" style="left:482px;top:441px;width:34px">23</div>
<div class="a c" style="left:517px;top:441px;width:87px">283/106</div>
<div class="a c" style="left:605px;top:441px;width:34px">2</div>
<div class="a c" style="left:640px;top:441px;width:83px">283/106</div>
<div class="a c d" style="left:724px;top:441px;width:135px">GASKET - WATER CONNEC</div>
<svg class="a" style="left:343px;top:445px" width="10" height="10" viewBox="0 0 11 11"><g fill="#77ae2e"><circle cx="5.5" cy="5.5" r="4"/><rect x="4.1" y="0.2" width="2.8" height="10.6" rx="0.9"/><rect x="0.2" y="4.1" width="10.6" height="2.8" rx="0.9"/><rect x="4.1" y="0.2" width="2.8" height="10.6" rx="0.9" transform="rotate(45 5.5 5.5)"/><rect x="4.1" y="0.2" width="2.8" height="10.6" rx="0.9" transform="rotate(-45 5.5 5.5)"/></g><circle cx="5.5" cy="5.5" r="1.9" fill="#fff"/></svg><svg class="a" style="left:358px;top:443px" width="17" height="14" viewBox="0 0 17 14"><path d="M0.6 0.6 L2.6 2.4" stroke="#4a6ea6" stroke-width="1.2" stroke-linecap="round"/><path d="M2.2 1.9 L16.2 1.9 L13.2 7.9 L3.6 7.9 Z" fill="#4a6ea6"/><g fill="#fff" opacity="0.85"><rect x="4.6" y="3" width="1" height="1.6"/><rect x="6.8" y="3" width="1" height="1.6"/><rect x="9" y="3" width="1" height="1.6"/><rect x="11.2" y="3" width="1" height="1.6"/><rect x="13.3" y="3" width="1" height="1.6"/><rect x="5" y="5.3" width="1" height="1.5"/><rect x="7.1" y="5.3" width="1" height="1.5"/><rect x="9.2" y="5.3" width="1" height="1.5"/><rect x="11.3" y="5.3" width="1" height="1.5"/></g><path d="M3.9 7.8 L4.3 10.1 L14.2 10.1" fill="none" stroke="#4a6ea6" stroke-width="1.1"/><circle cx="4.8" cy="12" r="1.1" fill="#4f9be8" stroke="#4a6ea6" stroke-width="0.4"/><circle cx="12.8" cy="12" r="1.1" fill="#4f9be8" stroke="#4a6ea6" stroke-width="0.4"/></svg><svg class="a" style="left:377px;top:443px" width="15" height="15" viewBox="0 0 15 15"><defs><radialGradient id="ig" cx="0.4" cy="0.35" r="0.7"><stop offset="0" stop-color="#f6f9fd"/><stop offset="0.55" stop-color="#dfe9f5"/><stop offset="1" stop-color="#9fc0e3"/></radialGradient></defs><circle cx="7.5" cy="7.5" r="7" fill="url(#ig)" stroke="#a9c8e8" stroke-width="0.8"/><rect x="6.4" y="3.2" width="2.2" height="1.8" fill="#2f5b9c"/><rect x="6.5" y="6" width="2" height="5" fill="#2f5b9c"/></svg>
<div class="a c" style="left:482px;top:461px;width:34px">24</div>
<div class="a c" style="left:517px;top:461px;width:87px">312064</div>
<div class="a c" style="left:605px;top:461px;width:34px">8</div>
<div class="a c" style="left:640px;top:461px;width:83px">312064</div>
<div class="a c d" style="left:724px;top:461px;width:135px">SCREW</div>
<svg class="a" style="left:343px;top:465px" width="10" height="10" viewBox="0 0 11 11"><g fill="#77ae2e"><circle cx="5.5" cy="5.5" r="4"/><rect x="4.1" y="0.2" width="2.8" height="10.6" rx="0.9"/><rect x="0.2" y="4.1" width="10.6" height="2.8" rx="0.9"/><rect x="4.1" y="0.2" width="2.8" height="10.6" rx="0.9" transform="rotate(45 5.5 5.5)"/><rect x="4.1" y="0.2" width="2.8" height="10.6" rx="0.9" transform="rotate(-45 5.5 5.5)"/></g><circle cx="5.5" cy="5.5" r="1.9" fill="#fff"/></svg><svg class="a" style="left:358px;top:463px" width="17" height="14" viewBox="0 0 17 14"><path d="M0.6 0.6 L2.6 2.4" stroke="#4a6ea6" stroke-width="1.2" stroke-linecap="round"/><path d="M2.2 1.9 L16.2 1.9 L13.2 7.9 L3.6 7.9 Z" fill="#4a6ea6"/><g fill="#fff" opacity="0.85"><rect x="4.6" y="3" width="1" height="1.6"/><rect x="6.8" y="3" width="1" height="1.6"/><rect x="9" y="3" width="1" height="1.6"/><rect x="11.2" y="3" width="1" height="1.6"/><rect x="13.3" y="3" width="1" height="1.6"/><rect x="5" y="5.3" width="1" height="1.5"/><rect x="7.1" y="5.3" width="1" height="1.5"/><rect x="9.2" y="5.3" width="1" height="1.5"/><rect x="11.3" y="5.3" width="1" height="1.5"/></g><path d="M3.9 7.8 L4.3 10.1 L14.2 10.1" fill="none" stroke="#4a6ea6" stroke-width="1.1"/><circle cx="4.8" cy="12" r="1.1" fill="#4f9be8" stroke="#4a6ea6" stroke-width="0.4"/><circle cx="12.8" cy="12" r="1.1" fill="#4f9be8" stroke="#4a6ea6" stroke-width="0.4"/></svg><svg class="a" style="left:378px;top:461px" width="11" height="18" viewBox="0 0 11 18"><defs><linearGradient id="bkg" x1="0" y1="0" x2="0" y2="1"><stop offset="0" stop-color="#3a84cc"/><stop offset="1" stop-color="#145a9e"/></linearGradient></defs><path d="M1 2.4 L8 5.6 L8 17 L1 14.2 Z" fill="url(#bkg)"/><path d="M1 2.4 L4.2 0.8 L10.6 4 L8 5.6 Z" fill="#fff"/><path d="M1.2 2.4 L4.2 0.9 L10.4 4 M2.6 3.2 L5.8 1.7 M4.3 4.1 L7.6 2.5" stroke="#2d78c2" stroke-width="0.9" fill="none"/><path d="M8 5.6 L10.6 4 L10.6 15.2 L8 17 Z" fill="#fff"/><path d="M10.2 4.2 L10.2 15.3 L8.2 16.8" stroke="#2a72bb" stroke-width="0.9" fill="none"/><ellipse cx="3.9" cy="8.6" rx="1.7" ry="1.4" fill="#8fbbe6"/></svg><svg class="a" style="left:395px;top:463px" width="15" height="15" viewBox="0 0 15 15"><defs><radialGradient id="ig" cx="0.4" cy="0.35" r="0.7"><stop offset="0" stop-color="#f6f9fd"/><stop offset="0.55" stop-color="#dfe9f5"/><stop offset="1" stop-color="#9fc0e3"/></radialGradient></defs><circle cx="7.5" cy="7.5" r="7" fill="url(#ig)" stroke="#a9c8e8" stroke-width="0.8"/><rect x="6.4" y="3.2" width="2.2" height="1.8" fill="#2f5b9c"/><rect x="6.5" y="6" width="2" height="5" fill="#2f5b9c"/></svg>
<div class="a c" style="left:482px;top:481px;width:34px">25</div>
<div class="a c" style="left:517px;top:481px;width:87px">2086/010</div>
<div class="a c" style="left:605px;top:481px;width:34px">8</div>
<div class="a c" style="left:640px;top:481px;width:83px">2086/010</div>
<div class="a c d" style="left:724px;top:481px;width:135px">SPRING WASHER</div>
<svg class="a" style="left:343px;top:485px" width="10" height="10" viewBox="0 0 11 11"><g fill="#77ae2e"><circle cx="5.5" cy="5.5" r="4"/><rect x="4.1" y="0.2" width="2.8" height="10.6" rx="0.9"/><rect x="0.2" y="4.1" width="10.6" height="2.8" rx="0.9"/><rect x="4.1" y="0.2" width="2.8" height="10.6" rx="0.9" transform="rotate(45 5.5 5.5)"/><rect x="4.1" y="0.2" width="2.8" height="10.6" rx="0.9" transform="rotate(-45 5.5 5.5)"/></g><circle cx="5.5" cy="5.5" r="1.9" fill="#fff"/></svg><svg class="a" style="left:358px;top:483px" width="17" height="14" viewBox="0 0 17 14"><path d="M0.6 0.6 L2.6 2.4" stroke="#4a6ea6" stroke-width="1.2" stroke-linecap="round"/><path d="M2.2 1.9 L16.2 1.9 L13.2 7.9 L3.6 7.9 Z" fill="#4a6ea6"/><g fill="#fff" opacity="0.85"><rect x="4.6" y="3" width="1" height="1.6"/><rect x="6.8" y="3" width="1" height="1.6"/><rect x="9" y="3" width="1" height="1.6"/><rect x="11.2" y="3" width="1" height="1.6"/><rect x="13.3" y="3" width="1" height="1.6"/><rect x="5" y="5.3" width="1" height="1.5"/><rect x="7.1" y="5.3" width="1" height="1.5"/><rect x="9.2" y="5.3" width="1" height="1.5"/><rect x="11.3" y="5.3" width="1" height="1.5"/></g><path d="M3.9 7.8 L4.3 10.1 L14.2 10.1" fill="none" stroke="#4a6ea6" stroke-width="1.1"/><circle cx="4.8" cy="12" r="1.1" fill="#4f9be8" stroke="#4a6ea6" stroke-width="0.4"/><circle cx="12.8" cy="12" r="1.1" fill="#4f9be8" stroke="#4a6ea6" stroke-width="0.4"/></svg><svg class="a" style="left:377px;top:483px" width="15" height="15" viewBox="0 0 15 15"><defs><radialGradient id="ig" cx="0.4" cy="0.35" r="0.7"><stop offset="0" stop-color="#f6f9fd"/><stop offset="0.55" stop-color="#dfe9f5"/><stop offset="1" stop-color="#9fc0e3"/></radialGradient></defs><circle cx="7.5" cy="7.5" r="7" fill="url(#ig)" stroke="#a9c8e8" stroke-width="0.8"/><rect x="6.4" y="3.2" width="2.2" height="1.8" fill="#2f5b9c"/><rect x="6.5" y="6" width="2" height="5" fill="#2f5b9c"/></svg>
<div class="a c" style="left:482px;top:501px;width:34px">26</div>
<div class="a c" style="left:517px;top:501px;width:87px">T416808</div>
<div class="a c" style="left:605px;top:501px;width:34px">1</div>
<div class="a c" style="left:640px;top:501px;width:83px">T416808</div>
<div class="a c d" style="left:724px;top:501px;width:135px">PIPE - COOLANT</div>
<svg class="a" style="left:343px;top:505px" width="10" height="10" viewBox="0 0 11 11"><g fill="#77ae2e"><circle cx="5.5" cy="5.5" r="4"/><rect x="4.1" y="0.2" width="2.8" height="10.6" rx="0.9"/><rect x="0.2" y="4.1" width="10.6" height="2.8" rx="0.9"/><rect x="4.1" y="0.2" width="2.8" height="10.6" rx="0.9" transform="rotate(45 5.5 5.5)"/><rect x="4.1" y="0.2" width="2.8" height="10.6" rx="0.9" transform="rotate(-45 5.5 5.5)"/></g><circle cx="5.5" cy="5.5" r="1.9" fill="#fff"/></svg><svg class="a" style="left:358px;top:503px" width="17" height="14" viewBox="0 0 17 14"><path d="M0.6 0.6 L2.6 2.4" stroke="#4a6ea6" stroke-width="1.2" stroke-linecap="round"/><path d="M2.2 1.9 L16.2 1.9 L13.2 7.9 L3.6 7.9 Z" fill="#4a6ea6"/><g fill="#fff" opacity="0.85"><rect x="4.6" y="3" width="1" height="1.6"/><rect x="6.8" y="3" width="1" height="1.6"/><rect x="9" y="3" width="1" height="1.6"/><rect x="11.2" y="3" width="1" height="1.6"/><rect x="13.3" y="3" width="1" height="1.6"/><rect x="5" y="5.3" width="1" height="1.5"/><rect x="7.1" y="5.3" width="1" height="1.5"/><rect x="9.2" y="5.3" width="1" height="1.5"/><rect x="11.3" y="5.3" width="1" height="1.5"/></g><path d="M3.9 7.8 L4.3 10.1 L14.2 10.1" fill="none" stroke="#4a6ea6" stroke-width="1.1"/><circle cx="4.8" cy="12" r="1.1" fill="#4f9be8" stroke="#4a6ea6" stroke-width="0.4"/><circle cx="12.8" cy="12" r="1.1" fill="#4f9be8" stroke="#4a6ea6" stroke-width="0.4"/></svg><svg class="a" style="left:377px;top:503px" width="15" height="15" viewBox="0 0 15 15"><defs><radialGradient id="ig" cx="0.4" cy="0.35" r="0.7"><stop offset="0" stop-color="#f6f9fd"/><stop offset="0.55" stop-color="#dfe9f5"/><stop offset="1" stop-color="#9fc0e3"/></radialGradient></defs><circle cx="7.5" cy="7.5" r="7" fill="url(#ig)" stroke="#a9c8e8" stroke-width="0.8"/><rect x="6.4" y="3.2" width="2.2" height="1.8" fill="#2f5b9c"/><rect x="6.5" y="6" width="2" height="5" fill="#2f5b9c"/></svg>
<div class="a c" style="left:482px;top:521px;width:34px">27</div>
<div class="a c" style="left:517px;top:521px;width:87px">341/180</div>
<div class="a c" style="left:605px;top:521px;width:34px">1</div>
<div class="a c" style="left:640px;top:521px;width:83px">341/180</div>
<div class="a c d" style="left:724px;top:521px;width:135px">GASKET - WATER CONNEC</div>
<svg class="a" style="left:343px;top:525px" width="10" height="10" viewBox="0 0 11 11"><g fill="#77ae2e"><circle cx="5.5" cy="5.5" r="4"/><rect x="4.1" y="0.2" width="2.8" height="10.6" rx="0.9"/><rect x="0.2" y="4.1" width="10.6" height="2.8" rx="0.9"/><rect x="4.1" y="0.2" width="2.8" height="10.6" rx="0.9" transform="rotate(45 5.5 5.5)"/><rect x="4.1" y="0.2" width="2.8" height="10.6" rx="0.9" transform="rotate(-45 5.5 5.5)"/></g><circle cx="5.5" cy="5.5" r="1.9" fill="#fff"/></svg><svg class="a" style="left:358px;top:523px" width="17" height="14" viewBox="0 0 17 14"><path d="M0.6 0.6 L2.6 2.4" stroke="#4a6ea6" stroke-width="1.2" stroke-linecap="round"/><path d="M2.2 1.9 L16.2 1.9 L13.2 7.9 L3.6 7.9 Z" fill="#4a6ea6"/><g fill="#fff" opacity="0.85"><rect x="4.6" y="3" width="1" height="1.6"/><rect x="6.8" y="3" width="1" height="1.6"/><rect x="9" y="3" width="1" height="1.6"/><rect x="11.2" y="3" width="1" height="1.6"/><rect x="13.3" y="3" width="1" height="1.6"/><rect x="5" y="5.3" width="1" height="1.5"/><rect x="7.1" y="5.3" width="1" height="1.5"/><rect x="9.2" y="5.3" width="1" height="1.5"/><rect x="11.3" y="5.3" width="1" height="1.5"/></g><path d="M3.9 7.8 L4.3 10.1 L14.2 10.1" fill="none" stroke="#4a6ea6" stroke-width="1.1"/><circle cx="4.8" cy="12" r="1.1" fill="#4f9be8" stroke="#4a6ea6" stroke-width="0.4"/><circle cx="12.8" cy="12" r="1.1" fill="#4f9be8" stroke="#4a6ea6" stroke-width="0.4"/></svg><svg class="a" style="left:377px;top:523px" width="15" height="15" viewBox="0 0 15 15"><defs><radialGradient id="ig" cx="0.4" cy="0.35" r="0.7"><stop offset="0" stop-color="#f6f9fd"/><stop offset="0.55" stop-color="#dfe9f5"/><stop offset="1" stop-color="#9fc0e3"/></radialGradient></defs><circle cx="7.5" cy="7.5" r="7" fill="url(#ig)" stroke="#a9c8e8" stroke-width="0.8"/><rect x="6.4" y="3.2" width="2.2" height="1.8" fill="#2f5b9c"/><rect x="6.5" y="6" width="2" height="5" fill="#2f5b9c"/></svg>
<div class="a c" style="left:482px;top:541px;width:34px">28</div>
<div class="a c" style="left:517px;top:541px;width:87px">312064</div>
<div class="a c" style="left:605px;top:541px;width:34px">4</div>
<div class="a c" style="left:640px;top:541px;width:83px">312064</div>
<div class="a c d" style="left:724px;top:541px;width:135px">SCREW</div>
<svg class="a" style="left:343px;top:545px" width="10" height="10" viewBox="0 0 11 11"><g fill="#77ae2e"><circle cx="5.5" cy="5.5" r="4"/><rect x="4.1" y="0.2" width="2.8" height="10.6" rx="0.9"/><rect x="0.2" y="4.1" width="10.6" height="2.8" rx="0.9"/><rect x="4.1" y="0.2" width="2.8" height="10.6" rx="0.9" transform="rotate(45 5.5 5.5)"/><rect x="4.1" y="0.2" width="2.8" height="10.6" rx="0.9" transform="rotate(-45 5.5 5.5)"/></g><circle cx="5.5" cy="5.5" r="1.9" fill="#fff"/></svg><svg class="a" style="left:358px;top:543px" width="17" height="14" viewBox="0 0 17 14"><path d="M0.6 0.6 L2.6 2.4" stroke="#4a6ea6" stroke-width="1.2" stroke-linecap="round"/><path d="M2.2 1.9 L16.2 1.9 L13.2 7.9 L3.6 7.9 Z" fill="#4a6ea6"/><g fill="#fff" opacity="0.85"><rect x="4.6" y="3" width="1" height="1.6"/><rect x="6.8" y="3" width="1" height="1.6"/><rect x="9" y="3" width="1" height="1.6"/><rect x="11.2" y="3" width="1" height="1.6"/><rect x="13.3" y="3" width="1" height="1.6"/><rect x="5" y="5.3" width="1" height="1.5"/><rect x="7.1" y="5.3" width="1" height="1.5"/><rect x="9.2" y="5.3" width="1" height="1.5"/><rect x="11.3" y="5.3" width="1" height="1.5"/></g><path d="M3.9 7.8 L4.3 10.1 L14.2 10.1" fill="none" stroke="#4a6ea6" stroke-width="1.1"/><circle cx="4.8" cy="12" r="1.1" fill="#4f9be8" stroke="#4a6ea6" stroke-width="0.4"/><circle cx="12.8" cy="12" r="1.1" fill="#4f9be8" stroke="#4a6ea6" stroke-width="0.4"/></svg><svg class="a" style="left:378px;top:541px" width="11" height="18" viewBox="0 0 11 18"><defs><linearGradient id="bkg" x1="0" y1="0" x2="0" y2="1"><stop offset="0" stop-color="#3a84cc"/><stop offset="1" stop-color="#145a9e"/></linearGradient></defs><path d="M1 2.4 L8 5.6 L8 17 L1 14.2 Z" fill="url(#bkg)"/><path d="M1 2.4 L4.2 0.8 L10.6 4 L8 5.6 Z" fill="#fff"/><path d="M1.2 2.4 L4.2 0.9 L10.4 4 M2.6 3.2 L5.8 1.7 M4.3 4.1 L7.6 2.5" stroke="#2d78c2" stroke-width="0.9" fill="none"/><path d="M8 5.6 L10.6 4 L10.6 15.2 L8 17 Z" fill="#fff"/><path d="M10.2 4.2 L10.2 15.3 L8.2 16.8" stroke="#2a72bb" stroke-width="0.9" fill="none"/><ellipse cx="3.9" cy="8.6" rx="1.7" ry="1.4" fill="#8fbbe6"/></svg><svg class="a" style="left:395px;top:543px" width="15" height="15" viewBox="0 0 15 15"><defs><radialGradient id="ig" cx="0.4" cy="0.35" r="0.7"><stop offset="0" stop-color="#f6f9fd"/><stop offset="0.55" stop-color="#dfe9f5"/><stop offset="1" stop-color="#9fc0e3"/></radialGradient></defs><circle cx="7.5" cy="7.5" r="7" fill="url(#ig)" stroke="#a9c8e8" stroke-width="0.8"/><rect x="6.4" y="3.2" width="2.2" height="1.8" fill="#2f5b9c"/><rect x="6.5" y="6" width="2" height="5" fill="#2f5b9c"/></svg>
<div class="a c" style="left:482px;top:561px;width:34px">29</div>
<div class="a c" style="left:517px;top:561px;width:87px">2086/010</div>
<div class="a c" style="left:605px;top:561px;width:34px">4</div>
<div class="a c" style="left:640px;top:561px;width:83px">2086/010</div>
<div class="a c d" style="left:724px;top:561px;width:135px">SPRING WASHER</div>
<svg class="a" style="left:343px;top:565px" width="10" height="10" viewBox="0 0 11 11"><g fill="#77ae2e"><circle cx="5.5" cy="5.5" r="4"/><rect x="4.1" y="0.2" width="2.8" height="10.6" rx="0.9"/><rect x="0.2" y="4.1" width="10.6" height="2.8" rx="0.9"/><rect x="4.1" y="0.2" width="2.8" height="10.6" rx="0.9" transform="rotate(45 5.5 5.5)"/><rect x="4.1" y="0.2" width="2.8" height="10.6" rx="0.9" transform="rotate(-45 5.5 5.5)"/></g><circle cx="5.5" cy="5.5" r="1.9" fill="#fff"/></svg><svg class="a" style="left:358px;top:563px" width="17" height="14" viewBox="0 0 17 14"><path d="M0.6 0.6 L2.6 2.4" stroke="#4a6ea6" stroke-width="1.2" stroke-linecap="round"/><path d="M2.2 1.9 L16.2 1.9 L13.2 7.9 L3.6 7.9 Z" fill="#4a6ea6"/><g fill="#fff" opacity="0.85"><rect x="4.6" y="3" width="1" height="1.6"/><rect x="6.8" y="3" width="1" height="1.6"/><rect x="9" y="3" width="1" height="1.6"/><rect x="11.2" y="3" width="1" height="1.6"/><rect x="13.3" y="3" width="1" height="1.6"/><rect x="5" y="5.3" width="1" height="1.5"/><rect x="7.1" y="5.3" width="1" height="1.5"/><rect x="9.2" y="5.3" width="1" height="1.5"/><rect x="11.3" y="5.3" width="1" height="1.5"/></g><path d="M3.9 7.8 L4.3 10.1 L14.2 10.1" fill="none" stroke="#4a6ea6" stroke-width="1.1"/><circle cx="4.8" cy="12" r="1.1" fill="#4f9be8" stroke="#4a6ea6" stroke-width="0.4"/><circle cx="12.8" cy="12" r="1.1" fill="#4f9be8" stroke="#4a6ea6" stroke-width="0.4"/></svg><svg class="a" style="left:377px;top:563px" width="15" height="15" viewBox="0 0 15 15"><defs><radialGradient id="ig" cx="0.4" cy="0.35" r="0.7"><stop offset="0" stop-color="#f6f9fd"/><stop offset="0.55" stop-color="#dfe9f5"/><stop offset="1" stop-color="#9fc0e3"/></radialGradient></defs><circle cx="7.5" cy="7.5" r="7" fill="url(#ig)" stroke="#a9c8e8" stroke-width="0.8"/><rect x="6.4" y="3.2" width="2.2" height="1.8" fill="#2f5b9c"/><rect x="6.5" y="6" width="2" height="5" fill="#2f5b9c"/></svg>
<div class="a" style="left:957px;top:481px;width:7px;height:7px;border-right:1px solid #555;border-bottom:1px solid #555;border-top:1px solid #e2e2e2;border-left:1px solid #e2e2e2"></div>
<div class="a" style="left:1026px;top:522px;width:43px;height:57px;background:#fff"></div>
<svg class="a" style="left:1028px;top:529px" width="36" height="37" viewBox="0 0 36 37"><g fill="none" stroke="#0b4f9d" stroke-width="2.7"><ellipse cx="9.2" cy="9.4" rx="6.4" ry="6.6"/><ellipse cx="26.8" cy="9.4" rx="6.4" ry="6.6"/><ellipse cx="9.2" cy="26.6" rx="6.4" ry="6.6"/><ellipse cx="26.8" cy="26.6" rx="6.4" ry="6.6"/><path d="M5 14 L13.5 5 M22.5 5 L31 14 M5 22 L13.5 31 M22.5 31 L31 22"/></g><path d="M18 1.5 L20.3 9.4 L18 17 L15.7 9.4 Z M18 19 L20.3 26.6 L18 34.5 L15.7 26.6 Z M1.5 18 L9.2 15.8 L17 18 L9.2 20.2 Z M19 18 L26.8 15.8 L34.5 18 L26.8 20.2 Z" fill="#0b4f9d"/></svg>
<div class="a" style="left:1028px;top:566px;font-size:11px;font-weight:bold;color:#0b4f9d;letter-spacing:-0.35px;line-height:13px;white-space:nowrap">Perkins<span style="font-size:4px;vertical-align:top;line-height:8px">&#174;</span></div>
</body></html>
